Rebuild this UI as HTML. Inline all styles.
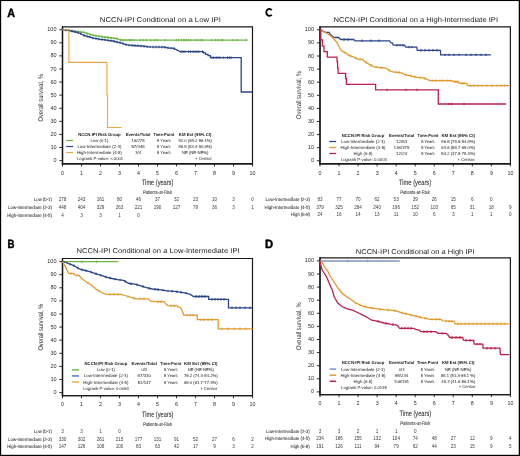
<!DOCTYPE html>
<html><head><meta charset="utf-8"><title>NCCN-IPI Conditional survival</title>
<style>
html,body{margin:0;padding:0;background:#fff;}
body{width:520px;height:456px;overflow:hidden;}
svg{display:block;font-family:"Liberation Sans", sans-serif;text-rendering:geometricPrecision;will-change:transform;}
.n{text-rendering:optimizeLegibility;}
</style></head>
<body>
<svg width="520" height="456" viewBox="0 0 520 456">
<rect x="0" y="0" width="520" height="456" fill="#fff"/>
<text x="7.20" y="16.56" font-size="11.9" text-anchor="start" font-weight="bold" fill="#000" stroke="#000" stroke-width="0.45" textLength="7.80" lengthAdjust="spacingAndGlyphs">A</text>
<text x="99.80" y="21.61" font-size="7.0" text-anchor="start" fill="#1e1e1e" textLength="121.00" lengthAdjust="spacingAndGlyphs">NCCN-IPI Conditional on a Low IPI</text>
<path d="M62.50,163.80 V26.90 H252.50 V163.80 Z" fill="none" stroke="#1a1a1a" stroke-width="1.2"/>
<line x1="62.50" y1="26.40" x2="62.50" y2="164.50" stroke="#1a1a1a" stroke-width="1.4"/>
<line x1="61.80" y1="163.80" x2="252.50" y2="163.80" stroke="#1a1a1a" stroke-width="1.4"/>
<line x1="59.30" y1="160.60" x2="62.50" y2="160.60" stroke="#1a1a1a" stroke-width="0.9"/>
<text x="56.50" y="162.17" font-size="5.5" text-anchor="end" fill="#2a2a2a" class="n">0</text>
<line x1="59.30" y1="147.51" x2="62.50" y2="147.51" stroke="#1a1a1a" stroke-width="0.9"/>
<text x="56.50" y="149.08" font-size="5.5" text-anchor="end" fill="#2a2a2a" class="n">10</text>
<line x1="59.30" y1="134.42" x2="62.50" y2="134.42" stroke="#1a1a1a" stroke-width="0.9"/>
<text x="56.50" y="135.99" font-size="5.5" text-anchor="end" fill="#2a2a2a" class="n">20</text>
<line x1="59.30" y1="121.33" x2="62.50" y2="121.33" stroke="#1a1a1a" stroke-width="0.9"/>
<text x="56.50" y="122.90" font-size="5.5" text-anchor="end" fill="#2a2a2a" class="n">30</text>
<line x1="59.30" y1="108.24" x2="62.50" y2="108.24" stroke="#1a1a1a" stroke-width="0.9"/>
<text x="56.50" y="109.81" font-size="5.5" text-anchor="end" fill="#2a2a2a" class="n">40</text>
<line x1="59.30" y1="95.15" x2="62.50" y2="95.15" stroke="#1a1a1a" stroke-width="0.9"/>
<text x="56.50" y="96.72" font-size="5.5" text-anchor="end" fill="#2a2a2a" class="n">50</text>
<line x1="59.30" y1="82.06" x2="62.50" y2="82.06" stroke="#1a1a1a" stroke-width="0.9"/>
<text x="56.50" y="83.63" font-size="5.5" text-anchor="end" fill="#2a2a2a" class="n">60</text>
<line x1="59.30" y1="68.97" x2="62.50" y2="68.97" stroke="#1a1a1a" stroke-width="0.9"/>
<text x="56.50" y="70.54" font-size="5.5" text-anchor="end" fill="#2a2a2a" class="n">70</text>
<line x1="59.30" y1="55.88" x2="62.50" y2="55.88" stroke="#1a1a1a" stroke-width="0.9"/>
<text x="56.50" y="57.45" font-size="5.5" text-anchor="end" fill="#2a2a2a" class="n">80</text>
<line x1="59.30" y1="42.79" x2="62.50" y2="42.79" stroke="#1a1a1a" stroke-width="0.9"/>
<text x="56.50" y="44.36" font-size="5.5" text-anchor="end" fill="#2a2a2a" class="n">90</text>
<line x1="59.30" y1="29.70" x2="62.50" y2="29.70" stroke="#1a1a1a" stroke-width="0.9"/>
<text x="56.50" y="31.27" font-size="5.5" text-anchor="end" fill="#2a2a2a" class="n">100</text>
<line x1="62.50" y1="163.80" x2="62.50" y2="166.40" stroke="#1a1a1a" stroke-width="0.9"/>
<text x="62.50" y="174.60" font-size="5.3" text-anchor="middle" fill="#2a2a2a" class="n">0</text>
<line x1="81.50" y1="163.80" x2="81.50" y2="166.40" stroke="#1a1a1a" stroke-width="0.9"/>
<text x="81.50" y="174.60" font-size="5.3" text-anchor="middle" fill="#2a2a2a" class="n">1</text>
<line x1="100.50" y1="163.80" x2="100.50" y2="166.40" stroke="#1a1a1a" stroke-width="0.9"/>
<text x="100.50" y="174.60" font-size="5.3" text-anchor="middle" fill="#2a2a2a" class="n">2</text>
<line x1="119.50" y1="163.80" x2="119.50" y2="166.40" stroke="#1a1a1a" stroke-width="0.9"/>
<text x="119.50" y="174.60" font-size="5.3" text-anchor="middle" fill="#2a2a2a" class="n">3</text>
<line x1="138.50" y1="163.80" x2="138.50" y2="166.40" stroke="#1a1a1a" stroke-width="0.9"/>
<text x="138.50" y="174.60" font-size="5.3" text-anchor="middle" fill="#2a2a2a" class="n">4</text>
<line x1="157.50" y1="163.80" x2="157.50" y2="166.40" stroke="#1a1a1a" stroke-width="0.9"/>
<text x="157.50" y="174.60" font-size="5.3" text-anchor="middle" fill="#2a2a2a" class="n">5</text>
<line x1="176.50" y1="163.80" x2="176.50" y2="166.40" stroke="#1a1a1a" stroke-width="0.9"/>
<text x="176.50" y="174.60" font-size="5.3" text-anchor="middle" fill="#2a2a2a" class="n">6</text>
<line x1="195.50" y1="163.80" x2="195.50" y2="166.40" stroke="#1a1a1a" stroke-width="0.9"/>
<text x="195.50" y="174.60" font-size="5.3" text-anchor="middle" fill="#2a2a2a" class="n">7</text>
<line x1="214.50" y1="163.80" x2="214.50" y2="166.40" stroke="#1a1a1a" stroke-width="0.9"/>
<text x="214.50" y="174.60" font-size="5.3" text-anchor="middle" fill="#2a2a2a" class="n">8</text>
<line x1="233.50" y1="163.80" x2="233.50" y2="166.40" stroke="#1a1a1a" stroke-width="0.9"/>
<text x="233.50" y="174.60" font-size="5.3" text-anchor="middle" fill="#2a2a2a" class="n">9</text>
<line x1="252.50" y1="163.80" x2="252.50" y2="166.40" stroke="#1a1a1a" stroke-width="0.9"/>
<text x="252.50" y="174.60" font-size="5.3" text-anchor="middle" fill="#2a2a2a" class="n">10</text>
<text x="0" y="0" font-size="6.9" text-anchor="middle" fill="#2e2e2e" textLength="47.70" lengthAdjust="spacingAndGlyphs" transform="translate(42.50,97.75) rotate(-90)">Overall survival, %</text>
<text x="141.90" y="185.00" font-size="7.8" fill="#2a2a2a" stroke="#2a2a2a" stroke-width="0.07" textLength="31.40" lengthAdjust="spacingAndGlyphs">Time (years)</text>
<text x="142.90" y="193.79" font-size="5.0" text-anchor="start" fill="#333" stroke="#333" stroke-width="0.05" textLength="29.10" lengthAdjust="spacingAndGlyphs">Patients-at-Risk</text>
<path d="M62.50,29.70 L68.90,30.40 L73.50,31.20 L77.00,31.50 L80.50,31.80 L83.90,32.30 L86.20,33.20 L89.70,34.30 L93.10,35.20 L96.60,35.80 L100.10,36.40 L103.50,37.00 L108.10,37.50 L112.70,38.10 L117.40,38.70 L119.50,39.60 L120.80,40.10 L247.50,40.10" fill="none" stroke="#6cb743" stroke-width="1.3" stroke-linejoin="miter"/>
<line x1="66.00" y1="28.88" x2="66.00" y2="31.28" stroke="#6cb743" stroke-width="1.1"/>
<line x1="69.00" y1="29.22" x2="69.00" y2="31.62" stroke="#6cb743" stroke-width="1.1"/>
<line x1="72.00" y1="29.74" x2="72.00" y2="32.14" stroke="#6cb743" stroke-width="1.1"/>
<line x1="75.00" y1="30.13" x2="75.00" y2="32.53" stroke="#6cb743" stroke-width="1.1"/>
<line x1="78.00" y1="30.39" x2="78.00" y2="32.79" stroke="#6cb743" stroke-width="1.1"/>
<line x1="81.00" y1="30.67" x2="81.00" y2="33.07" stroke="#6cb743" stroke-width="1.1"/>
<line x1="84.00" y1="31.14" x2="84.00" y2="33.54" stroke="#6cb743" stroke-width="1.1"/>
<line x1="87.00" y1="32.25" x2="87.00" y2="34.65" stroke="#6cb743" stroke-width="1.1"/>
<line x1="90.00" y1="33.18" x2="90.00" y2="35.58" stroke="#6cb743" stroke-width="1.1"/>
<line x1="93.00" y1="33.97" x2="93.00" y2="36.37" stroke="#6cb743" stroke-width="1.1"/>
<line x1="96.00" y1="34.50" x2="96.00" y2="36.90" stroke="#6cb743" stroke-width="1.1"/>
<line x1="99.00" y1="35.01" x2="99.00" y2="37.41" stroke="#6cb743" stroke-width="1.1"/>
<line x1="102.00" y1="35.54" x2="102.00" y2="37.94" stroke="#6cb743" stroke-width="1.1"/>
<line x1="105.00" y1="35.96" x2="105.00" y2="38.36" stroke="#6cb743" stroke-width="1.1"/>
<line x1="108.00" y1="36.29" x2="108.00" y2="38.69" stroke="#6cb743" stroke-width="1.1"/>
<line x1="111.00" y1="36.68" x2="111.00" y2="39.08" stroke="#6cb743" stroke-width="1.1"/>
<line x1="114.00" y1="37.07" x2="114.00" y2="39.47" stroke="#6cb743" stroke-width="1.1"/>
<line x1="117.00" y1="37.45" x2="117.00" y2="39.85" stroke="#6cb743" stroke-width="1.1"/>
<line x1="120.60" y1="38.82" x2="120.60" y2="41.22" stroke="#6cb743" stroke-width="1.1"/>
<line x1="122.30" y1="38.90" x2="122.30" y2="41.30" stroke="#6cb743" stroke-width="1.1"/>
<line x1="124.00" y1="38.90" x2="124.00" y2="41.30" stroke="#6cb743" stroke-width="1.1"/>
<line x1="125.80" y1="38.90" x2="125.80" y2="41.30" stroke="#6cb743" stroke-width="1.1"/>
<line x1="128.10" y1="38.90" x2="128.10" y2="41.30" stroke="#6cb743" stroke-width="1.1"/>
<line x1="129.80" y1="38.90" x2="129.80" y2="41.30" stroke="#6cb743" stroke-width="1.1"/>
<line x1="131.50" y1="38.90" x2="131.50" y2="41.30" stroke="#6cb743" stroke-width="1.1"/>
<line x1="133.80" y1="38.90" x2="133.80" y2="41.30" stroke="#6cb743" stroke-width="1.1"/>
<line x1="140.20" y1="38.90" x2="140.20" y2="41.30" stroke="#6cb743" stroke-width="1.1"/>
<line x1="143.10" y1="38.90" x2="143.10" y2="41.30" stroke="#6cb743" stroke-width="1.1"/>
<line x1="146.50" y1="38.90" x2="146.50" y2="41.30" stroke="#6cb743" stroke-width="1.1"/>
<line x1="150.60" y1="38.90" x2="150.60" y2="41.30" stroke="#6cb743" stroke-width="1.1"/>
<line x1="154.60" y1="38.90" x2="154.60" y2="41.30" stroke="#6cb743" stroke-width="1.1"/>
<line x1="156.90" y1="38.90" x2="156.90" y2="41.30" stroke="#6cb743" stroke-width="1.1"/>
<line x1="165.00" y1="38.90" x2="165.00" y2="41.30" stroke="#6cb743" stroke-width="1.1"/>
<line x1="176.40" y1="38.90" x2="176.40" y2="41.30" stroke="#6cb743" stroke-width="1.1"/>
<line x1="178.60" y1="38.90" x2="178.60" y2="41.30" stroke="#6cb743" stroke-width="1.1"/>
<line x1="181.50" y1="38.90" x2="181.50" y2="41.30" stroke="#6cb743" stroke-width="1.1"/>
<line x1="183.70" y1="38.90" x2="183.70" y2="41.30" stroke="#6cb743" stroke-width="1.1"/>
<line x1="185.10" y1="38.90" x2="185.10" y2="41.30" stroke="#6cb743" stroke-width="1.1"/>
<line x1="186.50" y1="38.90" x2="186.50" y2="41.30" stroke="#6cb743" stroke-width="1.1"/>
<line x1="188.70" y1="38.90" x2="188.70" y2="41.30" stroke="#6cb743" stroke-width="1.1"/>
<line x1="190.90" y1="38.90" x2="190.90" y2="41.30" stroke="#6cb743" stroke-width="1.1"/>
<line x1="195.20" y1="38.90" x2="195.20" y2="41.30" stroke="#6cb743" stroke-width="1.1"/>
<line x1="198.10" y1="38.90" x2="198.10" y2="41.30" stroke="#6cb743" stroke-width="1.1"/>
<line x1="201.00" y1="38.90" x2="201.00" y2="41.30" stroke="#6cb743" stroke-width="1.1"/>
<line x1="202.40" y1="38.90" x2="202.40" y2="41.30" stroke="#6cb743" stroke-width="1.1"/>
<line x1="211.80" y1="38.90" x2="211.80" y2="41.30" stroke="#6cb743" stroke-width="1.1"/>
<line x1="215.40" y1="38.90" x2="215.40" y2="41.30" stroke="#6cb743" stroke-width="1.1"/>
<line x1="218.30" y1="38.90" x2="218.30" y2="41.30" stroke="#6cb743" stroke-width="1.1"/>
<line x1="221.20" y1="38.90" x2="221.20" y2="41.30" stroke="#6cb743" stroke-width="1.1"/>
<line x1="222.60" y1="38.90" x2="222.60" y2="41.30" stroke="#6cb743" stroke-width="1.1"/>
<line x1="232.70" y1="38.90" x2="232.70" y2="41.30" stroke="#6cb743" stroke-width="1.1"/>
<line x1="237.00" y1="38.90" x2="237.00" y2="41.30" stroke="#6cb743" stroke-width="1.1"/>
<line x1="246.40" y1="38.90" x2="246.40" y2="41.30" stroke="#6cb743" stroke-width="1.1"/>
<path d="M62.50,29.70 L68.90,30.40 L73.50,31.50 L77.00,32.30 L80.50,33.50 L83.30,35.20 L86.20,36.20 L89.70,37.00 L93.10,38.10 L96.60,38.70 L100.10,39.30 L103.50,39.60 L108.10,40.40 L112.70,41.00 L117.40,42.10 L121.80,43.20 L125.70,44.60 L129.50,45.20 L133.40,45.50 L143.00,46.10 L148.80,46.90 L164.20,47.10 L168.00,47.80 L173.80,48.40 L177.60,50.30 L180.00,51.60 L203.30,51.60 L203.30,52.90 L205.50,52.90 L205.50,54.30 L208.00,54.30 L208.00,55.60 L210.40,55.60 L210.40,57.60 L241.20,57.60 L241.20,92.00 L252.50,92.00" fill="none" stroke="#2a4688" stroke-width="1.3" stroke-linejoin="miter"/>
<line x1="66.00" y1="28.88" x2="66.00" y2="31.28" stroke="#2a4688" stroke-width="1.1"/>
<line x1="69.00" y1="29.22" x2="69.00" y2="31.62" stroke="#2a4688" stroke-width="1.1"/>
<line x1="72.00" y1="29.94" x2="72.00" y2="32.34" stroke="#2a4688" stroke-width="1.1"/>
<line x1="75.00" y1="30.64" x2="75.00" y2="33.04" stroke="#2a4688" stroke-width="1.1"/>
<line x1="78.00" y1="31.44" x2="78.00" y2="33.84" stroke="#2a4688" stroke-width="1.1"/>
<line x1="81.00" y1="32.60" x2="81.00" y2="35.00" stroke="#2a4688" stroke-width="1.1"/>
<line x1="84.00" y1="34.24" x2="84.00" y2="36.64" stroke="#2a4688" stroke-width="1.1"/>
<line x1="87.00" y1="35.18" x2="87.00" y2="37.58" stroke="#2a4688" stroke-width="1.1"/>
<line x1="90.00" y1="35.90" x2="90.00" y2="38.30" stroke="#2a4688" stroke-width="1.1"/>
<line x1="93.00" y1="36.87" x2="93.00" y2="39.27" stroke="#2a4688" stroke-width="1.1"/>
<line x1="96.00" y1="37.40" x2="96.00" y2="39.80" stroke="#2a4688" stroke-width="1.1"/>
<line x1="99.00" y1="37.91" x2="99.00" y2="40.31" stroke="#2a4688" stroke-width="1.1"/>
<line x1="102.00" y1="38.27" x2="102.00" y2="40.67" stroke="#2a4688" stroke-width="1.1"/>
<line x1="105.00" y1="38.66" x2="105.00" y2="41.06" stroke="#2a4688" stroke-width="1.1"/>
<line x1="108.00" y1="39.18" x2="108.00" y2="41.58" stroke="#2a4688" stroke-width="1.1"/>
<line x1="111.00" y1="39.58" x2="111.00" y2="41.98" stroke="#2a4688" stroke-width="1.1"/>
<line x1="114.00" y1="40.10" x2="114.00" y2="42.50" stroke="#2a4688" stroke-width="1.1"/>
<line x1="117.00" y1="40.81" x2="117.00" y2="43.21" stroke="#2a4688" stroke-width="1.1"/>
<line x1="120.00" y1="41.55" x2="120.00" y2="43.95" stroke="#2a4688" stroke-width="1.1"/>
<line x1="123.00" y1="42.43" x2="123.00" y2="44.83" stroke="#2a4688" stroke-width="1.1"/>
<line x1="126.00" y1="43.45" x2="126.00" y2="45.85" stroke="#2a4688" stroke-width="1.1"/>
<line x1="129.00" y1="43.92" x2="129.00" y2="46.32" stroke="#2a4688" stroke-width="1.1"/>
<line x1="132.00" y1="44.19" x2="132.00" y2="46.59" stroke="#2a4688" stroke-width="1.1"/>
<line x1="135.00" y1="44.40" x2="135.00" y2="46.80" stroke="#2a4688" stroke-width="1.1"/>
<line x1="138.00" y1="44.59" x2="138.00" y2="46.99" stroke="#2a4688" stroke-width="1.1"/>
<line x1="141.00" y1="44.77" x2="141.00" y2="47.18" stroke="#2a4688" stroke-width="1.1"/>
<line x1="144.00" y1="45.04" x2="144.00" y2="47.44" stroke="#2a4688" stroke-width="1.1"/>
<line x1="147.00" y1="45.45" x2="147.00" y2="47.85" stroke="#2a4688" stroke-width="1.1"/>
<line x1="150.00" y1="45.72" x2="150.00" y2="48.12" stroke="#2a4688" stroke-width="1.1"/>
<line x1="153.00" y1="45.75" x2="153.00" y2="48.15" stroke="#2a4688" stroke-width="1.1"/>
<line x1="156.00" y1="45.79" x2="156.00" y2="48.19" stroke="#2a4688" stroke-width="1.1"/>
<line x1="159.00" y1="45.83" x2="159.00" y2="48.23" stroke="#2a4688" stroke-width="1.1"/>
<line x1="162.00" y1="45.87" x2="162.00" y2="48.27" stroke="#2a4688" stroke-width="1.1"/>
<line x1="165.00" y1="46.05" x2="165.00" y2="48.45" stroke="#2a4688" stroke-width="1.1"/>
<line x1="168.00" y1="46.60" x2="168.00" y2="49.00" stroke="#2a4688" stroke-width="1.1"/>
<line x1="171.00" y1="46.91" x2="171.00" y2="49.31" stroke="#2a4688" stroke-width="1.1"/>
<line x1="174.00" y1="47.30" x2="174.00" y2="49.70" stroke="#2a4688" stroke-width="1.1"/>
<line x1="181.20" y1="50.40" x2="181.20" y2="52.80" stroke="#2a4688" stroke-width="1.1"/>
<line x1="183.10" y1="50.40" x2="183.10" y2="52.80" stroke="#2a4688" stroke-width="1.1"/>
<line x1="185.00" y1="50.40" x2="185.00" y2="52.80" stroke="#2a4688" stroke-width="1.1"/>
<line x1="188.70" y1="50.40" x2="188.70" y2="52.80" stroke="#2a4688" stroke-width="1.1"/>
<line x1="190.60" y1="50.40" x2="190.60" y2="52.80" stroke="#2a4688" stroke-width="1.1"/>
<line x1="193.10" y1="50.40" x2="193.10" y2="52.80" stroke="#2a4688" stroke-width="1.1"/>
<line x1="195.00" y1="50.40" x2="195.00" y2="52.80" stroke="#2a4688" stroke-width="1.1"/>
<line x1="196.90" y1="50.40" x2="196.90" y2="52.80" stroke="#2a4688" stroke-width="1.1"/>
<line x1="198.70" y1="50.40" x2="198.70" y2="52.80" stroke="#2a4688" stroke-width="1.1"/>
<line x1="202.50" y1="50.40" x2="202.50" y2="52.80" stroke="#2a4688" stroke-width="1.1"/>
<line x1="211.90" y1="56.40" x2="211.90" y2="58.80" stroke="#2a4688" stroke-width="1.1"/>
<line x1="213.70" y1="56.40" x2="213.70" y2="58.80" stroke="#2a4688" stroke-width="1.1"/>
<line x1="216.20" y1="56.40" x2="216.20" y2="58.80" stroke="#2a4688" stroke-width="1.1"/>
<line x1="218.10" y1="56.40" x2="218.10" y2="58.80" stroke="#2a4688" stroke-width="1.1"/>
<line x1="220.00" y1="56.40" x2="220.00" y2="58.80" stroke="#2a4688" stroke-width="1.1"/>
<line x1="223.70" y1="56.40" x2="223.70" y2="58.80" stroke="#2a4688" stroke-width="1.1"/>
<line x1="227.50" y1="56.40" x2="227.50" y2="58.80" stroke="#2a4688" stroke-width="1.1"/>
<line x1="229.40" y1="56.40" x2="229.40" y2="58.80" stroke="#2a4688" stroke-width="1.1"/>
<line x1="231.20" y1="56.40" x2="231.20" y2="58.80" stroke="#2a4688" stroke-width="1.1"/>
<path d="M62.50,29.70 L68.90,29.70 L68.90,62.40 L106.90,62.40 L106.90,95.00 L107.50,95.00 L107.50,127.50 L121.60,127.50" fill="none" stroke="#eaa848" stroke-width="1.15" stroke-linejoin="miter"/>
<text x="99.40" y="135.84" font-size="4.3" text-anchor="middle" font-weight="bold" fill="#1a1a1a" textLength="42.50" lengthAdjust="spacingAndGlyphs">NCCN-IPI Risk Group</text>
<text x="138.10" y="135.84" font-size="4.3" text-anchor="middle" font-weight="bold" fill="#1a1a1a" textLength="24.80" lengthAdjust="spacingAndGlyphs">Events/Total</text>
<text x="163.80" y="135.84" font-size="4.3" text-anchor="middle" font-weight="bold" fill="#1a1a1a" textLength="21.00" lengthAdjust="spacingAndGlyphs">Time-Point</text>
<text x="195.20" y="135.84" font-size="4.3" text-anchor="middle" font-weight="bold" fill="#1a1a1a" textLength="32.70" lengthAdjust="spacingAndGlyphs">KM Est (95% CI)</text>
<line x1="66.20" y1="140.50" x2="73.10" y2="140.50" stroke="#6cb743" stroke-width="1.2"/>
<text x="99.40" y="142.04" font-size="4.3" text-anchor="middle" fill="#383838" stroke="#383838" stroke-width="0.04" textLength="17.80" lengthAdjust="spacingAndGlyphs">Low (0-1)</text>
<text x="138.10" y="142.04" font-size="4.3" text-anchor="middle" fill="#383838" stroke="#383838" stroke-width="0.04" textLength="13.00" lengthAdjust="spacingAndGlyphs">16/278</text>
<text x="163.80" y="142.04" font-size="4.3" text-anchor="middle" fill="#383838" stroke="#383838" stroke-width="0.04" textLength="13.50" lengthAdjust="spacingAndGlyphs">5 Years</text>
<text x="195.20" y="142.04" font-size="4.3" text-anchor="middle" fill="#383838" stroke="#383838" stroke-width="0.04" textLength="33.30" lengthAdjust="spacingAndGlyphs">92.0 (88.2-96.1%)</text>
<line x1="66.20" y1="146.50" x2="73.10" y2="146.50" stroke="#2a4688" stroke-width="1.2"/>
<text x="99.40" y="148.04" font-size="4.3" text-anchor="middle" fill="#383838" stroke="#383838" stroke-width="0.04" textLength="44.00" lengthAdjust="spacingAndGlyphs">Low-Intermediate (2-3)</text>
<text x="138.10" y="148.04" font-size="4.3" text-anchor="middle" fill="#383838" stroke="#383838" stroke-width="0.04" textLength="13.30" lengthAdjust="spacingAndGlyphs">57/448</text>
<text x="163.80" y="148.04" font-size="4.3" text-anchor="middle" fill="#383838" stroke="#383838" stroke-width="0.04" textLength="13.50" lengthAdjust="spacingAndGlyphs">5 Years</text>
<text x="195.20" y="148.04" font-size="4.3" text-anchor="middle" fill="#383838" stroke="#383838" stroke-width="0.04" textLength="33.30" lengthAdjust="spacingAndGlyphs">86.9 (83.4-90.6%)</text>
<line x1="66.20" y1="152.50" x2="73.10" y2="152.50" stroke="#eaa848" stroke-width="1.2"/>
<text x="99.40" y="154.04" font-size="4.3" text-anchor="middle" fill="#383838" stroke="#383838" stroke-width="0.04" textLength="45.00" lengthAdjust="spacingAndGlyphs">High-Intermediate (4-5)</text>
<text x="138.10" y="154.04" font-size="4.3" text-anchor="middle" fill="#383838" stroke="#383838" stroke-width="0.04" textLength="5.70" lengthAdjust="spacingAndGlyphs">3/4</text>
<text x="163.80" y="154.04" font-size="4.3" text-anchor="middle" fill="#383838" stroke="#383838" stroke-width="0.04" textLength="13.50" lengthAdjust="spacingAndGlyphs">5 Years</text>
<text x="195.20" y="154.04" font-size="4.3" text-anchor="middle" fill="#383838" stroke="#383838" stroke-width="0.04" textLength="26.20" lengthAdjust="spacingAndGlyphs">NE (NE-NE%)</text>
<text x="77.00" y="160.04" font-size="4.3" text-anchor="start" fill="#383838" stroke="#383838" stroke-width="0.04" textLength="46.20" lengthAdjust="spacingAndGlyphs">Logrank P-value: &lt;.0001</text>
<text x="211.90" y="160.14" font-size="4.3" text-anchor="end" fill="#383838" stroke="#383838" stroke-width="0.04" textLength="16.80" lengthAdjust="spacingAndGlyphs">+ Censor</text>
<text x="34.00" y="201.18" font-size="4.7" text-anchor="start" fill="#2e2e2e" stroke="#2e2e2e" stroke-width="0.06" textLength="17.90" lengthAdjust="spacingAndGlyphs">Low (0-1)</text>
<text x="62.50" y="201.15" font-size="4.6" text-anchor="middle" fill="#3c3c3c" class="n">278</text>
<text x="81.50" y="201.15" font-size="4.6" text-anchor="middle" fill="#3c3c3c" class="n">243</text>
<text x="100.50" y="201.15" font-size="4.6" text-anchor="middle" fill="#3c3c3c" class="n">161</text>
<text x="119.50" y="201.15" font-size="4.6" text-anchor="middle" fill="#3c3c3c" class="n">80</text>
<text x="138.50" y="201.15" font-size="4.6" text-anchor="middle" fill="#3c3c3c" class="n">46</text>
<text x="157.50" y="201.15" font-size="4.6" text-anchor="middle" fill="#3c3c3c" class="n">37</text>
<text x="176.50" y="201.15" font-size="4.6" text-anchor="middle" fill="#3c3c3c" class="n">32</text>
<text x="195.50" y="201.15" font-size="4.6" text-anchor="middle" fill="#3c3c3c" class="n">23</text>
<text x="214.50" y="201.15" font-size="4.6" text-anchor="middle" fill="#3c3c3c" class="n">10</text>
<text x="233.50" y="201.15" font-size="4.6" text-anchor="middle" fill="#3c3c3c" class="n">3</text>
<text x="252.50" y="201.15" font-size="4.6" text-anchor="middle" fill="#3c3c3c" class="n">0</text>
<text x="8.10" y="209.18" font-size="4.7" text-anchor="start" fill="#2e2e2e" stroke="#2e2e2e" stroke-width="0.06" textLength="43.80" lengthAdjust="spacingAndGlyphs">Low-Intermediate (2-3)</text>
<text x="62.50" y="209.15" font-size="4.6" text-anchor="middle" fill="#3c3c3c" class="n">448</text>
<text x="81.50" y="209.15" font-size="4.6" text-anchor="middle" fill="#3c3c3c" class="n">404</text>
<text x="100.50" y="209.15" font-size="4.6" text-anchor="middle" fill="#3c3c3c" class="n">329</text>
<text x="119.50" y="209.15" font-size="4.6" text-anchor="middle" fill="#3c3c3c" class="n">263</text>
<text x="138.50" y="209.15" font-size="4.6" text-anchor="middle" fill="#3c3c3c" class="n">221</text>
<text x="157.50" y="209.15" font-size="4.6" text-anchor="middle" fill="#3c3c3c" class="n">190</text>
<text x="176.50" y="209.15" font-size="4.6" text-anchor="middle" fill="#3c3c3c" class="n">127</text>
<text x="195.50" y="209.15" font-size="4.6" text-anchor="middle" fill="#3c3c3c" class="n">79</text>
<text x="214.50" y="209.15" font-size="4.6" text-anchor="middle" fill="#3c3c3c" class="n">36</text>
<text x="233.50" y="209.15" font-size="4.6" text-anchor="middle" fill="#3c3c3c" class="n">3</text>
<text x="252.50" y="209.15" font-size="4.6" text-anchor="middle" fill="#3c3c3c" class="n">1</text>
<text x="7.20" y="217.28" font-size="4.7" text-anchor="start" fill="#2e2e2e" stroke="#2e2e2e" stroke-width="0.06" textLength="44.70" lengthAdjust="spacingAndGlyphs">High-Intermediate (4-5)</text>
<text x="62.50" y="217.25" font-size="4.6" text-anchor="middle" fill="#3c3c3c" class="n">4</text>
<text x="81.50" y="217.25" font-size="4.6" text-anchor="middle" fill="#3c3c3c" class="n">3</text>
<text x="100.50" y="217.25" font-size="4.6" text-anchor="middle" fill="#3c3c3c" class="n">3</text>
<text x="119.50" y="217.25" font-size="4.6" text-anchor="middle" fill="#3c3c3c" class="n">1</text>
<text x="138.50" y="217.25" font-size="4.6" text-anchor="middle" fill="#3c3c3c" class="n">0</text>
<text x="7.50" y="247.96" font-size="11.9" text-anchor="start" font-weight="bold" fill="#000" stroke="#000" stroke-width="0.45" textLength="7.00" lengthAdjust="spacingAndGlyphs">B</text>
<text x="76.60" y="253.21" font-size="7.0" text-anchor="start" fill="#1e1e1e" textLength="163.00" lengthAdjust="spacingAndGlyphs">NCCN-IPI Conditional on a Low-Intermediate IPI</text>
<path d="M62.50,395.60 V258.50 H252.50 V395.60 Z" fill="none" stroke="#1a1a1a" stroke-width="1.2"/>
<line x1="62.50" y1="258.00" x2="62.50" y2="396.30" stroke="#1a1a1a" stroke-width="1.4"/>
<line x1="61.80" y1="395.60" x2="252.50" y2="395.60" stroke="#1a1a1a" stroke-width="1.4"/>
<line x1="59.30" y1="392.60" x2="62.50" y2="392.60" stroke="#1a1a1a" stroke-width="0.9"/>
<text x="56.50" y="394.17" font-size="5.5" text-anchor="end" fill="#2a2a2a" class="n">0</text>
<line x1="59.30" y1="379.50" x2="62.50" y2="379.50" stroke="#1a1a1a" stroke-width="0.9"/>
<text x="56.50" y="381.07" font-size="5.5" text-anchor="end" fill="#2a2a2a" class="n">10</text>
<line x1="59.30" y1="366.40" x2="62.50" y2="366.40" stroke="#1a1a1a" stroke-width="0.9"/>
<text x="56.50" y="367.97" font-size="5.5" text-anchor="end" fill="#2a2a2a" class="n">20</text>
<line x1="59.30" y1="353.30" x2="62.50" y2="353.30" stroke="#1a1a1a" stroke-width="0.9"/>
<text x="56.50" y="354.87" font-size="5.5" text-anchor="end" fill="#2a2a2a" class="n">30</text>
<line x1="59.30" y1="340.20" x2="62.50" y2="340.20" stroke="#1a1a1a" stroke-width="0.9"/>
<text x="56.50" y="341.77" font-size="5.5" text-anchor="end" fill="#2a2a2a" class="n">40</text>
<line x1="59.30" y1="327.10" x2="62.50" y2="327.10" stroke="#1a1a1a" stroke-width="0.9"/>
<text x="56.50" y="328.67" font-size="5.5" text-anchor="end" fill="#2a2a2a" class="n">50</text>
<line x1="59.30" y1="314.00" x2="62.50" y2="314.00" stroke="#1a1a1a" stroke-width="0.9"/>
<text x="56.50" y="315.57" font-size="5.5" text-anchor="end" fill="#2a2a2a" class="n">60</text>
<line x1="59.30" y1="300.90" x2="62.50" y2="300.90" stroke="#1a1a1a" stroke-width="0.9"/>
<text x="56.50" y="302.47" font-size="5.5" text-anchor="end" fill="#2a2a2a" class="n">70</text>
<line x1="59.30" y1="287.80" x2="62.50" y2="287.80" stroke="#1a1a1a" stroke-width="0.9"/>
<text x="56.50" y="289.37" font-size="5.5" text-anchor="end" fill="#2a2a2a" class="n">80</text>
<line x1="59.30" y1="274.70" x2="62.50" y2="274.70" stroke="#1a1a1a" stroke-width="0.9"/>
<text x="56.50" y="276.27" font-size="5.5" text-anchor="end" fill="#2a2a2a" class="n">90</text>
<line x1="59.30" y1="261.60" x2="62.50" y2="261.60" stroke="#1a1a1a" stroke-width="0.9"/>
<text x="56.50" y="263.17" font-size="5.5" text-anchor="end" fill="#2a2a2a" class="n">100</text>
<line x1="62.50" y1="395.60" x2="62.50" y2="398.20" stroke="#1a1a1a" stroke-width="0.9"/>
<text x="62.50" y="406.40" font-size="5.3" text-anchor="middle" fill="#2a2a2a" class="n">0</text>
<line x1="81.50" y1="395.60" x2="81.50" y2="398.20" stroke="#1a1a1a" stroke-width="0.9"/>
<text x="81.50" y="406.40" font-size="5.3" text-anchor="middle" fill="#2a2a2a" class="n">1</text>
<line x1="100.50" y1="395.60" x2="100.50" y2="398.20" stroke="#1a1a1a" stroke-width="0.9"/>
<text x="100.50" y="406.40" font-size="5.3" text-anchor="middle" fill="#2a2a2a" class="n">2</text>
<line x1="119.50" y1="395.60" x2="119.50" y2="398.20" stroke="#1a1a1a" stroke-width="0.9"/>
<text x="119.50" y="406.40" font-size="5.3" text-anchor="middle" fill="#2a2a2a" class="n">3</text>
<line x1="138.50" y1="395.60" x2="138.50" y2="398.20" stroke="#1a1a1a" stroke-width="0.9"/>
<text x="138.50" y="406.40" font-size="5.3" text-anchor="middle" fill="#2a2a2a" class="n">4</text>
<line x1="157.50" y1="395.60" x2="157.50" y2="398.20" stroke="#1a1a1a" stroke-width="0.9"/>
<text x="157.50" y="406.40" font-size="5.3" text-anchor="middle" fill="#2a2a2a" class="n">5</text>
<line x1="176.50" y1="395.60" x2="176.50" y2="398.20" stroke="#1a1a1a" stroke-width="0.9"/>
<text x="176.50" y="406.40" font-size="5.3" text-anchor="middle" fill="#2a2a2a" class="n">6</text>
<line x1="195.50" y1="395.60" x2="195.50" y2="398.20" stroke="#1a1a1a" stroke-width="0.9"/>
<text x="195.50" y="406.40" font-size="5.3" text-anchor="middle" fill="#2a2a2a" class="n">7</text>
<line x1="214.50" y1="395.60" x2="214.50" y2="398.20" stroke="#1a1a1a" stroke-width="0.9"/>
<text x="214.50" y="406.40" font-size="5.3" text-anchor="middle" fill="#2a2a2a" class="n">8</text>
<line x1="233.50" y1="395.60" x2="233.50" y2="398.20" stroke="#1a1a1a" stroke-width="0.9"/>
<text x="233.50" y="406.40" font-size="5.3" text-anchor="middle" fill="#2a2a2a" class="n">9</text>
<line x1="252.50" y1="395.60" x2="252.50" y2="398.20" stroke="#1a1a1a" stroke-width="0.9"/>
<text x="252.50" y="406.40" font-size="5.3" text-anchor="middle" fill="#2a2a2a" class="n">10</text>
<text x="0" y="0" font-size="6.9" text-anchor="middle" fill="#2e2e2e" textLength="47.00" lengthAdjust="spacingAndGlyphs" transform="translate(42.50,327.10) rotate(-90)">Overall survival, %</text>
<text x="142.00" y="416.90" font-size="7.8" fill="#2a2a2a" stroke="#2a2a2a" stroke-width="0.07" textLength="31.40" lengthAdjust="spacingAndGlyphs">Time (years)</text>
<text x="143.00" y="425.79" font-size="5.0" text-anchor="start" fill="#333" stroke="#333" stroke-width="0.05" textLength="29.00" lengthAdjust="spacingAndGlyphs">Patients-at-Risk</text>
<path d="M62.50,261.70 L118.30,261.70" fill="none" stroke="#6cb743" stroke-width="1.3" stroke-linejoin="miter"/>
<line x1="82.00" y1="260.50" x2="82.00" y2="262.90" stroke="#6cb743" stroke-width="1.1"/>
<line x1="96.50" y1="260.50" x2="96.50" y2="262.90" stroke="#6cb743" stroke-width="1.1"/>
<path d="M62.50,261.60 L65.80,262.30 L68.70,263.70 L71.50,264.60 L75.40,266.50 L79.20,268.80 L83.10,270.00 L88.80,271.30 L94.60,273.30 L100.40,275.20 L106.20,277.10 L111.90,278.50 L117.70,279.60 L123.50,280.40 L129.20,283.50 L135.00,284.20 L140.80,285.80 L146.50,287.70 L152.30,289.00 L160.90,289.80 L166.90,290.80 L174.80,291.40 L184.70,292.80 L189.70,294.20 L193.60,296.50 L208.70,296.50 L208.70,299.30 L228.50,299.30 L228.50,307.80 L252.50,307.80" fill="none" stroke="#2a4688" stroke-width="1.3" stroke-linejoin="miter"/>
<line x1="70.00" y1="262.92" x2="70.00" y2="265.32" stroke="#2a4688" stroke-width="1.1"/>
<line x1="74.00" y1="264.62" x2="74.00" y2="267.02" stroke="#2a4688" stroke-width="1.1"/>
<line x1="78.00" y1="266.87" x2="78.00" y2="269.27" stroke="#2a4688" stroke-width="1.1"/>
<line x1="82.00" y1="268.46" x2="82.00" y2="270.86" stroke="#2a4688" stroke-width="1.1"/>
<line x1="86.00" y1="269.46" x2="86.00" y2="271.86" stroke="#2a4688" stroke-width="1.1"/>
<line x1="91.00" y1="270.86" x2="91.00" y2="273.26" stroke="#2a4688" stroke-width="1.1"/>
<line x1="96.00" y1="272.56" x2="96.00" y2="274.96" stroke="#2a4688" stroke-width="1.1"/>
<line x1="101.00" y1="274.20" x2="101.00" y2="276.60" stroke="#2a4688" stroke-width="1.1"/>
<line x1="106.00" y1="275.83" x2="106.00" y2="278.23" stroke="#2a4688" stroke-width="1.1"/>
<line x1="110.00" y1="276.83" x2="110.00" y2="279.23" stroke="#2a4688" stroke-width="1.1"/>
<line x1="115.00" y1="277.89" x2="115.00" y2="280.29" stroke="#2a4688" stroke-width="1.1"/>
<line x1="120.00" y1="278.72" x2="120.00" y2="281.12" stroke="#2a4688" stroke-width="1.1"/>
<line x1="125.00" y1="280.02" x2="125.00" y2="282.42" stroke="#2a4688" stroke-width="1.1"/>
<line x1="131.00" y1="282.52" x2="131.00" y2="284.92" stroke="#2a4688" stroke-width="1.1"/>
<line x1="137.00" y1="283.55" x2="137.00" y2="285.95" stroke="#2a4688" stroke-width="1.1"/>
<line x1="143.00" y1="285.33" x2="143.00" y2="287.73" stroke="#2a4688" stroke-width="1.1"/>
<line x1="149.00" y1="287.06" x2="149.00" y2="289.46" stroke="#2a4688" stroke-width="1.1"/>
<line x1="155.00" y1="288.05" x2="155.00" y2="290.45" stroke="#2a4688" stroke-width="1.1"/>
<line x1="158.00" y1="288.33" x2="158.00" y2="290.73" stroke="#2a4688" stroke-width="1.1"/>
<line x1="163.00" y1="288.95" x2="163.00" y2="291.35" stroke="#2a4688" stroke-width="1.1"/>
<line x1="168.00" y1="289.68" x2="168.00" y2="292.08" stroke="#2a4688" stroke-width="1.1"/>
<line x1="172.00" y1="289.99" x2="172.00" y2="292.39" stroke="#2a4688" stroke-width="1.1"/>
<line x1="177.00" y1="290.51" x2="177.00" y2="292.91" stroke="#2a4688" stroke-width="1.1"/>
<line x1="181.00" y1="291.08" x2="181.00" y2="293.48" stroke="#2a4688" stroke-width="1.1"/>
<line x1="186.00" y1="291.96" x2="186.00" y2="294.36" stroke="#2a4688" stroke-width="1.1"/>
<line x1="196.00" y1="295.30" x2="196.00" y2="297.70" stroke="#2a4688" stroke-width="1.1"/>
<line x1="199.00" y1="295.30" x2="199.00" y2="297.70" stroke="#2a4688" stroke-width="1.1"/>
<line x1="202.00" y1="295.30" x2="202.00" y2="297.70" stroke="#2a4688" stroke-width="1.1"/>
<line x1="205.00" y1="295.30" x2="205.00" y2="297.70" stroke="#2a4688" stroke-width="1.1"/>
<line x1="212.00" y1="298.10" x2="212.00" y2="300.50" stroke="#2a4688" stroke-width="1.1"/>
<line x1="215.00" y1="298.10" x2="215.00" y2="300.50" stroke="#2a4688" stroke-width="1.1"/>
<line x1="218.00" y1="298.10" x2="218.00" y2="300.50" stroke="#2a4688" stroke-width="1.1"/>
<line x1="221.00" y1="298.10" x2="221.00" y2="300.50" stroke="#2a4688" stroke-width="1.1"/>
<line x1="224.00" y1="298.10" x2="224.00" y2="300.50" stroke="#2a4688" stroke-width="1.1"/>
<line x1="232.00" y1="306.60" x2="232.00" y2="309.00" stroke="#2a4688" stroke-width="1.1"/>
<line x1="236.00" y1="306.60" x2="236.00" y2="309.00" stroke="#2a4688" stroke-width="1.1"/>
<line x1="240.00" y1="306.60" x2="240.00" y2="309.00" stroke="#2a4688" stroke-width="1.1"/>
<line x1="245.00" y1="306.60" x2="245.00" y2="309.00" stroke="#2a4688" stroke-width="1.1"/>
<line x1="250.00" y1="306.60" x2="250.00" y2="309.00" stroke="#2a4688" stroke-width="1.1"/>
<path d="M62.50,261.60 L64.80,265.60 L66.70,269.40 L68.70,273.30 L73.50,273.70 L75.40,275.20 L79.20,275.60 L81.20,278.10 L85.00,281.00 L90.80,284.80 L95.60,288.70 L101.30,292.50 L106.20,294.40 L121.50,294.40 L126.30,296.00 L132.10,297.70 L136.00,298.80 L148.50,298.80 L150.40,301.20 L155.00,301.70 L163.90,301.70 L165.90,304.10 L167.90,305.60 L176.80,306.00 L180.70,308.00 L182.70,312.00 L183.70,315.10 L197.20,315.10 L197.20,319.70 L218.20,319.70 L218.20,328.80 L252.50,328.80" fill="none" stroke="#e39a2d" stroke-width="1.3" stroke-linejoin="miter"/>
<line x1="71.00" y1="272.29" x2="71.00" y2="274.69" stroke="#e39a2d" stroke-width="1.1"/>
<line x1="77.00" y1="274.17" x2="77.00" y2="276.57" stroke="#e39a2d" stroke-width="1.1"/>
<line x1="88.00" y1="281.77" x2="88.00" y2="284.17" stroke="#e39a2d" stroke-width="1.1"/>
<line x1="99.00" y1="289.77" x2="99.00" y2="292.17" stroke="#e39a2d" stroke-width="1.1"/>
<line x1="110.00" y1="293.20" x2="110.00" y2="295.60" stroke="#e39a2d" stroke-width="1.1"/>
<line x1="114.00" y1="293.20" x2="114.00" y2="295.60" stroke="#e39a2d" stroke-width="1.1"/>
<line x1="118.00" y1="293.20" x2="118.00" y2="295.60" stroke="#e39a2d" stroke-width="1.1"/>
<line x1="128.00" y1="295.30" x2="128.00" y2="297.70" stroke="#e39a2d" stroke-width="1.1"/>
<line x1="134.00" y1="297.04" x2="134.00" y2="299.44" stroke="#e39a2d" stroke-width="1.1"/>
<line x1="140.00" y1="297.60" x2="140.00" y2="300.00" stroke="#e39a2d" stroke-width="1.1"/>
<line x1="144.00" y1="297.60" x2="144.00" y2="300.00" stroke="#e39a2d" stroke-width="1.1"/>
<line x1="158.00" y1="300.50" x2="158.00" y2="302.90" stroke="#e39a2d" stroke-width="1.1"/>
<line x1="161.00" y1="300.50" x2="161.00" y2="302.90" stroke="#e39a2d" stroke-width="1.1"/>
<line x1="171.00" y1="304.54" x2="171.00" y2="306.94" stroke="#e39a2d" stroke-width="1.1"/>
<line x1="174.00" y1="304.67" x2="174.00" y2="307.07" stroke="#e39a2d" stroke-width="1.1"/>
<line x1="187.00" y1="313.90" x2="187.00" y2="316.30" stroke="#e39a2d" stroke-width="1.1"/>
<line x1="190.00" y1="313.90" x2="190.00" y2="316.30" stroke="#e39a2d" stroke-width="1.1"/>
<line x1="193.00" y1="313.90" x2="193.00" y2="316.30" stroke="#e39a2d" stroke-width="1.1"/>
<line x1="201.00" y1="318.50" x2="201.00" y2="320.90" stroke="#e39a2d" stroke-width="1.1"/>
<line x1="204.00" y1="318.50" x2="204.00" y2="320.90" stroke="#e39a2d" stroke-width="1.1"/>
<line x1="208.00" y1="318.50" x2="208.00" y2="320.90" stroke="#e39a2d" stroke-width="1.1"/>
<line x1="212.00" y1="318.50" x2="212.00" y2="320.90" stroke="#e39a2d" stroke-width="1.1"/>
<line x1="222.00" y1="327.60" x2="222.00" y2="330.00" stroke="#e39a2d" stroke-width="1.1"/>
<line x1="228.00" y1="327.60" x2="228.00" y2="330.00" stroke="#e39a2d" stroke-width="1.1"/>
<line x1="234.00" y1="327.60" x2="234.00" y2="330.00" stroke="#e39a2d" stroke-width="1.1"/>
<line x1="240.00" y1="327.60" x2="240.00" y2="330.00" stroke="#e39a2d" stroke-width="1.1"/>
<line x1="246.00" y1="327.60" x2="246.00" y2="330.00" stroke="#e39a2d" stroke-width="1.1"/>
<text x="105.90" y="365.14" font-size="4.3" text-anchor="middle" font-weight="bold" fill="#1a1a1a" textLength="42.70" lengthAdjust="spacingAndGlyphs">NCCN-IPI Risk Group</text>
<text x="144.25" y="365.14" font-size="4.3" text-anchor="middle" font-weight="bold" fill="#1a1a1a" textLength="25.30" lengthAdjust="spacingAndGlyphs">Events/Total</text>
<text x="170.75" y="365.14" font-size="4.3" text-anchor="middle" font-weight="bold" fill="#1a1a1a" textLength="21.10" lengthAdjust="spacingAndGlyphs">Time-Point</text>
<text x="200.80" y="365.14" font-size="4.3" text-anchor="middle" font-weight="bold" fill="#1a1a1a" textLength="33.40" lengthAdjust="spacingAndGlyphs">KM Est (95% CI)</text>
<line x1="72.00" y1="369.90" x2="79.00" y2="369.90" stroke="#8dc877" stroke-width="1.9"/>
<text x="105.90" y="371.44" font-size="4.3" text-anchor="middle" fill="#383838" stroke="#383838" stroke-width="0.04" textLength="18.20" lengthAdjust="spacingAndGlyphs">Low (0-1)</text>
<text x="144.25" y="371.44" font-size="4.3" text-anchor="middle" fill="#383838" stroke="#383838" stroke-width="0.04" textLength="5.70" lengthAdjust="spacingAndGlyphs">0/3</text>
<text x="170.75" y="371.44" font-size="4.3" text-anchor="middle" fill="#383838" stroke="#383838" stroke-width="0.04" textLength="13.50" lengthAdjust="spacingAndGlyphs">5 Years</text>
<text x="200.80" y="371.44" font-size="4.3" text-anchor="middle" fill="#383838" stroke="#383838" stroke-width="0.04" textLength="26.20" lengthAdjust="spacingAndGlyphs">NE (NE-NE%)</text>
<line x1="72.00" y1="375.90" x2="79.00" y2="375.90" stroke="#7a93c4" stroke-width="1.9"/>
<text x="105.90" y="377.44" font-size="4.3" text-anchor="middle" fill="#383838" stroke="#383838" stroke-width="0.04" textLength="44.20" lengthAdjust="spacingAndGlyphs">Low-Intermediate (2-3)</text>
<text x="144.25" y="377.44" font-size="4.3" text-anchor="middle" fill="#383838" stroke="#383838" stroke-width="0.04" textLength="13.30" lengthAdjust="spacingAndGlyphs">67/330</text>
<text x="170.75" y="377.44" font-size="4.3" text-anchor="middle" fill="#383838" stroke="#383838" stroke-width="0.04" textLength="13.50" lengthAdjust="spacingAndGlyphs">5 Years</text>
<text x="200.80" y="377.44" font-size="4.3" text-anchor="middle" fill="#383838" stroke="#383838" stroke-width="0.04" textLength="33.70" lengthAdjust="spacingAndGlyphs">79.2 (74.4-84.2%)</text>
<line x1="72.00" y1="382.00" x2="79.00" y2="382.00" stroke="#f0be6c" stroke-width="1.9"/>
<text x="105.90" y="383.54" font-size="4.3" text-anchor="middle" fill="#383838" stroke="#383838" stroke-width="0.04" textLength="45.10" lengthAdjust="spacingAndGlyphs">High-Intermediate (4-5)</text>
<text x="144.25" y="383.54" font-size="4.3" text-anchor="middle" fill="#383838" stroke="#383838" stroke-width="0.04" textLength="13.00" lengthAdjust="spacingAndGlyphs">51/147</text>
<text x="170.75" y="383.54" font-size="4.3" text-anchor="middle" fill="#383838" stroke="#383838" stroke-width="0.04" textLength="13.50" lengthAdjust="spacingAndGlyphs">5 Years</text>
<text x="200.80" y="383.54" font-size="4.3" text-anchor="middle" fill="#383838" stroke="#383838" stroke-width="0.04" textLength="33.70" lengthAdjust="spacingAndGlyphs">69.0 (61.7-77.3%)</text>
<text x="83.20" y="389.74" font-size="4.3" text-anchor="start" fill="#383838" stroke="#383838" stroke-width="0.04" textLength="45.70" lengthAdjust="spacingAndGlyphs">Logrank P-value: 0.0064</text>
<text x="217.20" y="389.54" font-size="4.3" text-anchor="end" fill="#383838" stroke="#383838" stroke-width="0.04" textLength="16.90" lengthAdjust="spacingAndGlyphs">+ Censor</text>
<text x="34.00" y="432.98" font-size="4.7" text-anchor="start" fill="#2e2e2e" stroke="#2e2e2e" stroke-width="0.06" textLength="17.90" lengthAdjust="spacingAndGlyphs">Low (0-1)</text>
<text x="62.50" y="432.95" font-size="4.6" text-anchor="middle" fill="#3c3c3c" class="n">3</text>
<text x="81.50" y="432.95" font-size="4.6" text-anchor="middle" fill="#3c3c3c" class="n">3</text>
<text x="100.50" y="432.95" font-size="4.6" text-anchor="middle" fill="#3c3c3c" class="n">1</text>
<text x="119.50" y="432.95" font-size="4.6" text-anchor="middle" fill="#3c3c3c" class="n">0</text>
<text x="8.10" y="440.58" font-size="4.7" text-anchor="start" fill="#2e2e2e" stroke="#2e2e2e" stroke-width="0.06" textLength="43.80" lengthAdjust="spacingAndGlyphs">Low-Intermediate (2-3)</text>
<text x="62.50" y="440.55" font-size="4.6" text-anchor="middle" fill="#3c3c3c" class="n">330</text>
<text x="81.50" y="440.55" font-size="4.6" text-anchor="middle" fill="#3c3c3c" class="n">302</text>
<text x="100.50" y="440.55" font-size="4.6" text-anchor="middle" fill="#3c3c3c" class="n">261</text>
<text x="119.50" y="440.55" font-size="4.6" text-anchor="middle" fill="#3c3c3c" class="n">215</text>
<text x="138.50" y="440.55" font-size="4.6" text-anchor="middle" fill="#3c3c3c" class="n">177</text>
<text x="157.50" y="440.55" font-size="4.6" text-anchor="middle" fill="#3c3c3c" class="n">131</text>
<text x="176.50" y="440.55" font-size="4.6" text-anchor="middle" fill="#3c3c3c" class="n">91</text>
<text x="195.50" y="440.55" font-size="4.6" text-anchor="middle" fill="#3c3c3c" class="n">52</text>
<text x="214.50" y="440.55" font-size="4.6" text-anchor="middle" fill="#3c3c3c" class="n">27</text>
<text x="233.50" y="440.55" font-size="4.6" text-anchor="middle" fill="#3c3c3c" class="n">6</text>
<text x="252.50" y="440.55" font-size="4.6" text-anchor="middle" fill="#3c3c3c" class="n">2</text>
<text x="7.20" y="448.28" font-size="4.7" text-anchor="start" fill="#2e2e2e" stroke="#2e2e2e" stroke-width="0.06" textLength="44.70" lengthAdjust="spacingAndGlyphs">High-Intermediate (4-5)</text>
<text x="62.50" y="448.25" font-size="4.6" text-anchor="middle" fill="#3c3c3c" class="n">147</text>
<text x="81.50" y="448.25" font-size="4.6" text-anchor="middle" fill="#3c3c3c" class="n">126</text>
<text x="100.50" y="448.25" font-size="4.6" text-anchor="middle" fill="#3c3c3c" class="n">108</text>
<text x="119.50" y="448.25" font-size="4.6" text-anchor="middle" fill="#3c3c3c" class="n">100</text>
<text x="138.50" y="448.25" font-size="4.6" text-anchor="middle" fill="#3c3c3c" class="n">83</text>
<text x="157.50" y="448.25" font-size="4.6" text-anchor="middle" fill="#3c3c3c" class="n">63</text>
<text x="176.50" y="448.25" font-size="4.6" text-anchor="middle" fill="#3c3c3c" class="n">42</text>
<text x="195.50" y="448.25" font-size="4.6" text-anchor="middle" fill="#3c3c3c" class="n">17</text>
<text x="214.50" y="448.25" font-size="4.6" text-anchor="middle" fill="#3c3c3c" class="n">9</text>
<text x="233.50" y="448.25" font-size="4.6" text-anchor="middle" fill="#3c3c3c" class="n">3</text>
<text x="252.50" y="448.25" font-size="4.6" text-anchor="middle" fill="#3c3c3c" class="n">2</text>
<path d="M271.75,10.05 A3.15,3.45 0 1 0 271.75,14.75" fill="none" stroke="#000" stroke-width="1.85"/>
<text x="333.60" y="22.11" font-size="7.0" text-anchor="start" fill="#1e1e1e" textLength="164.40" lengthAdjust="spacingAndGlyphs">NCCN-IPI Conditional on a High-Intermediate IPI</text>
<path d="M320.00,163.80 V26.80 H510.40 V163.80 Z" fill="none" stroke="#1a1a1a" stroke-width="1.2"/>
<line x1="320.00" y1="26.30" x2="320.00" y2="164.50" stroke="#1a1a1a" stroke-width="1.4"/>
<line x1="319.30" y1="163.80" x2="510.40" y2="163.80" stroke="#1a1a1a" stroke-width="1.4"/>
<line x1="316.80" y1="160.80" x2="320.00" y2="160.80" stroke="#1a1a1a" stroke-width="0.9"/>
<text x="314.00" y="162.37" font-size="5.5" text-anchor="end" fill="#2a2a2a" class="n">0</text>
<line x1="316.80" y1="147.70" x2="320.00" y2="147.70" stroke="#1a1a1a" stroke-width="0.9"/>
<text x="314.00" y="149.27" font-size="5.5" text-anchor="end" fill="#2a2a2a" class="n">10</text>
<line x1="316.80" y1="134.60" x2="320.00" y2="134.60" stroke="#1a1a1a" stroke-width="0.9"/>
<text x="314.00" y="136.17" font-size="5.5" text-anchor="end" fill="#2a2a2a" class="n">20</text>
<line x1="316.80" y1="121.50" x2="320.00" y2="121.50" stroke="#1a1a1a" stroke-width="0.9"/>
<text x="314.00" y="123.07" font-size="5.5" text-anchor="end" fill="#2a2a2a" class="n">30</text>
<line x1="316.80" y1="108.40" x2="320.00" y2="108.40" stroke="#1a1a1a" stroke-width="0.9"/>
<text x="314.00" y="109.97" font-size="5.5" text-anchor="end" fill="#2a2a2a" class="n">40</text>
<line x1="316.80" y1="95.30" x2="320.00" y2="95.30" stroke="#1a1a1a" stroke-width="0.9"/>
<text x="314.00" y="96.87" font-size="5.5" text-anchor="end" fill="#2a2a2a" class="n">50</text>
<line x1="316.80" y1="82.20" x2="320.00" y2="82.20" stroke="#1a1a1a" stroke-width="0.9"/>
<text x="314.00" y="83.77" font-size="5.5" text-anchor="end" fill="#2a2a2a" class="n">60</text>
<line x1="316.80" y1="69.10" x2="320.00" y2="69.10" stroke="#1a1a1a" stroke-width="0.9"/>
<text x="314.00" y="70.67" font-size="5.5" text-anchor="end" fill="#2a2a2a" class="n">70</text>
<line x1="316.80" y1="56.00" x2="320.00" y2="56.00" stroke="#1a1a1a" stroke-width="0.9"/>
<text x="314.00" y="57.57" font-size="5.5" text-anchor="end" fill="#2a2a2a" class="n">80</text>
<line x1="316.80" y1="42.90" x2="320.00" y2="42.90" stroke="#1a1a1a" stroke-width="0.9"/>
<text x="314.00" y="44.47" font-size="5.5" text-anchor="end" fill="#2a2a2a" class="n">90</text>
<line x1="316.80" y1="29.80" x2="320.00" y2="29.80" stroke="#1a1a1a" stroke-width="0.9"/>
<text x="314.00" y="31.37" font-size="5.5" text-anchor="end" fill="#2a2a2a" class="n">100</text>
<line x1="320.00" y1="163.80" x2="320.00" y2="166.40" stroke="#1a1a1a" stroke-width="0.9"/>
<text x="320.00" y="174.60" font-size="5.3" text-anchor="middle" fill="#2a2a2a" class="n">0</text>
<line x1="339.04" y1="163.80" x2="339.04" y2="166.40" stroke="#1a1a1a" stroke-width="0.9"/>
<text x="339.04" y="174.60" font-size="5.3" text-anchor="middle" fill="#2a2a2a" class="n">1</text>
<line x1="358.08" y1="163.80" x2="358.08" y2="166.40" stroke="#1a1a1a" stroke-width="0.9"/>
<text x="358.08" y="174.60" font-size="5.3" text-anchor="middle" fill="#2a2a2a" class="n">2</text>
<line x1="377.12" y1="163.80" x2="377.12" y2="166.40" stroke="#1a1a1a" stroke-width="0.9"/>
<text x="377.12" y="174.60" font-size="5.3" text-anchor="middle" fill="#2a2a2a" class="n">3</text>
<line x1="396.16" y1="163.80" x2="396.16" y2="166.40" stroke="#1a1a1a" stroke-width="0.9"/>
<text x="396.16" y="174.60" font-size="5.3" text-anchor="middle" fill="#2a2a2a" class="n">4</text>
<line x1="415.20" y1="163.80" x2="415.20" y2="166.40" stroke="#1a1a1a" stroke-width="0.9"/>
<text x="415.20" y="174.60" font-size="5.3" text-anchor="middle" fill="#2a2a2a" class="n">5</text>
<line x1="434.24" y1="163.80" x2="434.24" y2="166.40" stroke="#1a1a1a" stroke-width="0.9"/>
<text x="434.24" y="174.60" font-size="5.3" text-anchor="middle" fill="#2a2a2a" class="n">6</text>
<line x1="453.28" y1="163.80" x2="453.28" y2="166.40" stroke="#1a1a1a" stroke-width="0.9"/>
<text x="453.28" y="174.60" font-size="5.3" text-anchor="middle" fill="#2a2a2a" class="n">7</text>
<line x1="472.32" y1="163.80" x2="472.32" y2="166.40" stroke="#1a1a1a" stroke-width="0.9"/>
<text x="472.32" y="174.60" font-size="5.3" text-anchor="middle" fill="#2a2a2a" class="n">8</text>
<line x1="491.36" y1="163.80" x2="491.36" y2="166.40" stroke="#1a1a1a" stroke-width="0.9"/>
<text x="491.36" y="174.60" font-size="5.3" text-anchor="middle" fill="#2a2a2a" class="n">9</text>
<line x1="510.40" y1="163.80" x2="510.40" y2="166.40" stroke="#1a1a1a" stroke-width="0.9"/>
<text x="510.40" y="174.60" font-size="5.3" text-anchor="middle" fill="#2a2a2a" class="n">10</text>
<text x="0" y="0" font-size="6.9" text-anchor="middle" fill="#2e2e2e" textLength="47.90" lengthAdjust="spacingAndGlyphs" transform="translate(300.50,94.95) rotate(-90)">Overall survival, %</text>
<text x="398.90" y="185.20" font-size="7.8" fill="#2a2a2a" stroke="#2a2a2a" stroke-width="0.07" textLength="32.30" lengthAdjust="spacingAndGlyphs">Time (years)</text>
<text x="400.20" y="193.59" font-size="5.0" text-anchor="start" fill="#333" stroke="#333" stroke-width="0.05" textLength="29.70" lengthAdjust="spacingAndGlyphs">Patients-at-Risk</text>
<path d="M320.00,29.70 L322.00,30.40 L323.20,31.20 L324.30,31.80 L326.70,32.30 L329.00,32.30 L330.10,34.10 L331.80,35.80 L333.60,37.00 L335.30,37.50 L338.80,37.50 L339.90,38.90 L341.10,39.50 L353.80,39.50 L354.90,40.80 L389.60,40.80 L390.50,42.50 L392.50,43.10 L393.30,45.20 L404.60,45.20 L405.80,47.10 L416.70,47.10 L417.30,50.30 L440.40,50.30 L440.60,54.90 L490.90,54.90" fill="none" stroke="#2a4688" stroke-width="1.3" stroke-linejoin="miter"/>
<line x1="344.00" y1="38.30" x2="344.00" y2="40.70" stroke="#2a4688" stroke-width="1.1"/>
<line x1="348.00" y1="38.30" x2="348.00" y2="40.70" stroke="#2a4688" stroke-width="1.1"/>
<line x1="362.00" y1="39.60" x2="362.00" y2="42.00" stroke="#2a4688" stroke-width="1.1"/>
<line x1="371.00" y1="39.60" x2="371.00" y2="42.00" stroke="#2a4688" stroke-width="1.1"/>
<line x1="379.00" y1="39.60" x2="379.00" y2="42.00" stroke="#2a4688" stroke-width="1.1"/>
<line x1="397.00" y1="44.00" x2="397.00" y2="46.40" stroke="#2a4688" stroke-width="1.1"/>
<line x1="400.00" y1="44.00" x2="400.00" y2="46.40" stroke="#2a4688" stroke-width="1.1"/>
<line x1="403.00" y1="44.00" x2="403.00" y2="46.40" stroke="#2a4688" stroke-width="1.1"/>
<line x1="409.00" y1="45.90" x2="409.00" y2="48.30" stroke="#2a4688" stroke-width="1.1"/>
<line x1="412.00" y1="45.90" x2="412.00" y2="48.30" stroke="#2a4688" stroke-width="1.1"/>
<line x1="421.00" y1="49.10" x2="421.00" y2="51.50" stroke="#2a4688" stroke-width="1.1"/>
<line x1="425.00" y1="49.10" x2="425.00" y2="51.50" stroke="#2a4688" stroke-width="1.1"/>
<line x1="429.00" y1="49.10" x2="429.00" y2="51.50" stroke="#2a4688" stroke-width="1.1"/>
<line x1="433.00" y1="49.10" x2="433.00" y2="51.50" stroke="#2a4688" stroke-width="1.1"/>
<line x1="437.00" y1="49.10" x2="437.00" y2="51.50" stroke="#2a4688" stroke-width="1.1"/>
<line x1="445.00" y1="53.70" x2="445.00" y2="56.10" stroke="#2a4688" stroke-width="1.1"/>
<line x1="449.00" y1="53.70" x2="449.00" y2="56.10" stroke="#2a4688" stroke-width="1.1"/>
<line x1="454.00" y1="53.70" x2="454.00" y2="56.10" stroke="#2a4688" stroke-width="1.1"/>
<line x1="459.00" y1="53.70" x2="459.00" y2="56.10" stroke="#2a4688" stroke-width="1.1"/>
<line x1="466.00" y1="53.70" x2="466.00" y2="56.10" stroke="#2a4688" stroke-width="1.1"/>
<line x1="471.00" y1="53.70" x2="471.00" y2="56.10" stroke="#2a4688" stroke-width="1.1"/>
<line x1="476.00" y1="53.70" x2="476.00" y2="56.10" stroke="#2a4688" stroke-width="1.1"/>
<line x1="481.00" y1="53.70" x2="481.00" y2="56.10" stroke="#2a4688" stroke-width="1.1"/>
<line x1="486.00" y1="53.70" x2="486.00" y2="56.10" stroke="#2a4688" stroke-width="1.1"/>
<path d="M320.00,29.80 L322.60,31.20 L324.90,32.30 L327.20,33.50 L329.50,35.00 L331.80,37.00 L334.10,39.30 L336.50,42.10 L338.20,45.00 L339.30,47.30 L341.10,50.40 L343.80,52.10 L346.80,53.50 L348.50,55.20 L353.10,56.90 L357.70,59.20 L362.30,59.50 L364.60,61.50 L369.20,64.40 L373.80,66.70 L378.40,67.50 L385.00,67.90 L387.30,69.00 L390.80,71.30 L394.20,72.10 L400.00,72.50 L403.50,74.20 L408.10,75.40 L412.70,76.30 L417.30,77.30 L423.10,77.90 L426.50,79.10 L430.00,80.60 L452.30,80.60 L453.00,81.70 L458.40,81.70 L459.20,83.30 L466.80,83.30 L467.30,85.60 L510.40,85.60" fill="none" stroke="#e39a2d" stroke-width="1.3" stroke-linejoin="miter"/>
<line x1="345.00" y1="51.46" x2="345.00" y2="53.86" stroke="#e39a2d" stroke-width="1.1"/>
<line x1="350.00" y1="54.55" x2="350.00" y2="56.95" stroke="#e39a2d" stroke-width="1.1"/>
<line x1="356.00" y1="57.15" x2="356.00" y2="59.55" stroke="#e39a2d" stroke-width="1.1"/>
<line x1="360.00" y1="58.15" x2="360.00" y2="60.55" stroke="#e39a2d" stroke-width="1.1"/>
<line x1="366.00" y1="61.18" x2="366.00" y2="63.58" stroke="#e39a2d" stroke-width="1.1"/>
<line x1="371.00" y1="64.10" x2="371.00" y2="66.50" stroke="#e39a2d" stroke-width="1.1"/>
<line x1="376.00" y1="65.88" x2="376.00" y2="68.28" stroke="#e39a2d" stroke-width="1.1"/>
<line x1="381.00" y1="66.46" x2="381.00" y2="68.86" stroke="#e39a2d" stroke-width="1.1"/>
<line x1="389.00" y1="68.92" x2="389.00" y2="71.32" stroke="#e39a2d" stroke-width="1.1"/>
<line x1="396.00" y1="71.02" x2="396.00" y2="73.42" stroke="#e39a2d" stroke-width="1.1"/>
<line x1="399.00" y1="71.23" x2="399.00" y2="73.63" stroke="#e39a2d" stroke-width="1.1"/>
<line x1="406.00" y1="73.65" x2="406.00" y2="76.05" stroke="#e39a2d" stroke-width="1.1"/>
<line x1="411.00" y1="74.77" x2="411.00" y2="77.17" stroke="#e39a2d" stroke-width="1.1"/>
<line x1="415.00" y1="75.60" x2="415.00" y2="78.00" stroke="#e39a2d" stroke-width="1.1"/>
<line x1="420.00" y1="76.38" x2="420.00" y2="78.78" stroke="#e39a2d" stroke-width="1.1"/>
<line x1="425.00" y1="77.37" x2="425.00" y2="79.77" stroke="#e39a2d" stroke-width="1.1"/>
<line x1="433.00" y1="79.40" x2="433.00" y2="81.80" stroke="#e39a2d" stroke-width="1.1"/>
<line x1="436.00" y1="79.40" x2="436.00" y2="81.80" stroke="#e39a2d" stroke-width="1.1"/>
<line x1="440.00" y1="79.40" x2="440.00" y2="81.80" stroke="#e39a2d" stroke-width="1.1"/>
<line x1="443.00" y1="79.40" x2="443.00" y2="81.80" stroke="#e39a2d" stroke-width="1.1"/>
<line x1="447.00" y1="79.40" x2="447.00" y2="81.80" stroke="#e39a2d" stroke-width="1.1"/>
<line x1="450.00" y1="79.40" x2="450.00" y2="81.80" stroke="#e39a2d" stroke-width="1.1"/>
<line x1="455.00" y1="80.50" x2="455.00" y2="82.90" stroke="#e39a2d" stroke-width="1.1"/>
<line x1="457.00" y1="80.50" x2="457.00" y2="82.90" stroke="#e39a2d" stroke-width="1.1"/>
<line x1="462.00" y1="82.10" x2="462.00" y2="84.50" stroke="#e39a2d" stroke-width="1.1"/>
<line x1="464.00" y1="82.10" x2="464.00" y2="84.50" stroke="#e39a2d" stroke-width="1.1"/>
<line x1="470.00" y1="84.40" x2="470.00" y2="86.80" stroke="#e39a2d" stroke-width="1.1"/>
<line x1="474.00" y1="84.40" x2="474.00" y2="86.80" stroke="#e39a2d" stroke-width="1.1"/>
<line x1="478.00" y1="84.40" x2="478.00" y2="86.80" stroke="#e39a2d" stroke-width="1.1"/>
<line x1="482.00" y1="84.40" x2="482.00" y2="86.80" stroke="#e39a2d" stroke-width="1.1"/>
<line x1="487.00" y1="84.40" x2="487.00" y2="86.80" stroke="#e39a2d" stroke-width="1.1"/>
<line x1="492.00" y1="84.40" x2="492.00" y2="86.80" stroke="#e39a2d" stroke-width="1.1"/>
<line x1="497.00" y1="84.40" x2="497.00" y2="86.80" stroke="#e39a2d" stroke-width="1.1"/>
<line x1="501.00" y1="84.40" x2="501.00" y2="86.80" stroke="#e39a2d" stroke-width="1.1"/>
<line x1="505.00" y1="84.40" x2="505.00" y2="86.80" stroke="#e39a2d" stroke-width="1.1"/>
<path d="M320.00,29.80 L320.80,29.80 L320.80,39.80 L322.40,39.80 L322.40,46.20 L324.00,46.20 L324.00,51.60 L327.30,51.60 L327.30,57.20 L337.00,57.20 L337.00,61.80 L337.60,61.80 L337.60,68.20 L338.10,68.20 L338.10,73.40 L345.70,73.40 L345.70,78.50 L346.40,78.50 L346.40,84.30 L375.60,84.30 L375.60,89.90 L438.30,89.90 L438.30,104.00 L506.00,104.00" fill="none" stroke="#bc1f4c" stroke-width="1.3" stroke-linejoin="miter"/>
<line x1="387.00" y1="88.70" x2="387.00" y2="91.10" stroke="#bc1f4c" stroke-width="1.1"/>
<line x1="406.00" y1="88.70" x2="406.00" y2="91.10" stroke="#bc1f4c" stroke-width="1.1"/>
<line x1="417.00" y1="88.70" x2="417.00" y2="91.10" stroke="#bc1f4c" stroke-width="1.1"/>
<line x1="449.00" y1="102.80" x2="449.00" y2="105.20" stroke="#bc1f4c" stroke-width="1.1"/>
<line x1="452.00" y1="102.80" x2="452.00" y2="105.20" stroke="#bc1f4c" stroke-width="1.1"/>
<line x1="464.00" y1="102.80" x2="464.00" y2="105.20" stroke="#bc1f4c" stroke-width="1.1"/>
<text x="363.00" y="136.84" font-size="4.3" text-anchor="middle" font-weight="bold" fill="#1a1a1a" textLength="42.40" lengthAdjust="spacingAndGlyphs">NCCN-IPI Risk Group</text>
<text x="401.60" y="136.84" font-size="4.3" text-anchor="middle" font-weight="bold" fill="#1a1a1a" textLength="25.30" lengthAdjust="spacingAndGlyphs">Events/Total</text>
<text x="427.90" y="136.84" font-size="4.3" text-anchor="middle" font-weight="bold" fill="#1a1a1a" textLength="21.20" lengthAdjust="spacingAndGlyphs">Time-Point</text>
<text x="458.20" y="136.84" font-size="4.3" text-anchor="middle" font-weight="bold" fill="#1a1a1a" textLength="33.50" lengthAdjust="spacingAndGlyphs">KM Est (95% CI)</text>
<line x1="329.30" y1="141.50" x2="336.10" y2="141.50" stroke="#2a4688" stroke-width="1.3"/>
<text x="363.00" y="143.04" font-size="4.3" text-anchor="middle" fill="#383838" stroke="#383838" stroke-width="0.04" textLength="43.70" lengthAdjust="spacingAndGlyphs">Low-Intermediate (2-3)</text>
<text x="401.60" y="143.04" font-size="4.3" text-anchor="middle" fill="#383838" stroke="#383838" stroke-width="0.04" textLength="11.00" lengthAdjust="spacingAndGlyphs">12/83</text>
<text x="427.90" y="143.04" font-size="4.3" text-anchor="middle" fill="#383838" stroke="#383838" stroke-width="0.04" textLength="13.50" lengthAdjust="spacingAndGlyphs">5 Years</text>
<text x="458.20" y="143.04" font-size="4.3" text-anchor="middle" fill="#383838" stroke="#383838" stroke-width="0.04" textLength="33.70" lengthAdjust="spacingAndGlyphs">86.5 (78.9-94.8%)</text>
<line x1="329.30" y1="147.50" x2="336.10" y2="147.50" stroke="#e39a2d" stroke-width="1.3"/>
<text x="363.00" y="149.04" font-size="4.3" text-anchor="middle" fill="#383838" stroke="#383838" stroke-width="0.04" textLength="45.10" lengthAdjust="spacingAndGlyphs">High-Intermediate (4-5)</text>
<text x="401.60" y="149.04" font-size="4.3" text-anchor="middle" fill="#383838" stroke="#383838" stroke-width="0.04" textLength="15.50" lengthAdjust="spacingAndGlyphs">136/379</text>
<text x="427.90" y="149.04" font-size="4.3" text-anchor="middle" fill="#383838" stroke="#383838" stroke-width="0.04" textLength="13.50" lengthAdjust="spacingAndGlyphs">5 Years</text>
<text x="458.20" y="149.04" font-size="4.3" text-anchor="middle" fill="#383838" stroke="#383838" stroke-width="0.04" textLength="33.70" lengthAdjust="spacingAndGlyphs">63.6 (58.7-69.0%)</text>
<line x1="329.30" y1="153.50" x2="336.10" y2="153.50" stroke="#bc1f4c" stroke-width="1.3"/>
<text x="363.00" y="155.04" font-size="4.3" text-anchor="middle" fill="#383838" stroke="#383838" stroke-width="0.04" textLength="18.90" lengthAdjust="spacingAndGlyphs">High (6-8)</text>
<text x="401.60" y="155.04" font-size="4.3" text-anchor="middle" fill="#383838" stroke="#383838" stroke-width="0.04" textLength="11.00" lengthAdjust="spacingAndGlyphs">12/24</text>
<text x="427.90" y="155.04" font-size="4.3" text-anchor="middle" fill="#383838" stroke="#383838" stroke-width="0.04" textLength="13.50" lengthAdjust="spacingAndGlyphs">5 Years</text>
<text x="458.20" y="155.04" font-size="4.3" text-anchor="middle" fill="#383838" stroke="#383838" stroke-width="0.04" textLength="33.70" lengthAdjust="spacingAndGlyphs">54.2 (37.5-78.3%)</text>
<text x="340.90" y="160.94" font-size="4.3" text-anchor="start" fill="#383838" stroke="#383838" stroke-width="0.04" textLength="46.00" lengthAdjust="spacingAndGlyphs">Logrank P-value: 0.0003</text>
<text x="474.80" y="160.94" font-size="4.3" text-anchor="end" fill="#383838" stroke="#383838" stroke-width="0.04" textLength="17.20" lengthAdjust="spacingAndGlyphs">+ Censor</text>
<text x="265.60" y="200.98" font-size="4.7" text-anchor="start" fill="#2e2e2e" stroke="#2e2e2e" stroke-width="0.06" textLength="44.30" lengthAdjust="spacingAndGlyphs">Low-Intermediate (2-3)</text>
<text x="320.00" y="200.95" font-size="4.6" text-anchor="middle" fill="#3c3c3c" class="n">83</text>
<text x="339.04" y="200.95" font-size="4.6" text-anchor="middle" fill="#3c3c3c" class="n">77</text>
<text x="358.08" y="200.95" font-size="4.6" text-anchor="middle" fill="#3c3c3c" class="n">70</text>
<text x="377.12" y="200.95" font-size="4.6" text-anchor="middle" fill="#3c3c3c" class="n">62</text>
<text x="396.16" y="200.95" font-size="4.6" text-anchor="middle" fill="#3c3c3c" class="n">53</text>
<text x="415.20" y="200.95" font-size="4.6" text-anchor="middle" fill="#3c3c3c" class="n">39</text>
<text x="434.24" y="200.95" font-size="4.6" text-anchor="middle" fill="#3c3c3c" class="n">26</text>
<text x="453.28" y="200.95" font-size="4.6" text-anchor="middle" fill="#3c3c3c" class="n">15</text>
<text x="472.32" y="200.95" font-size="4.6" text-anchor="middle" fill="#3c3c3c" class="n">6</text>
<text x="491.36" y="200.95" font-size="4.6" text-anchor="middle" fill="#3c3c3c" class="n">0</text>
<text x="264.60" y="208.68" font-size="4.7" text-anchor="start" fill="#2e2e2e" stroke="#2e2e2e" stroke-width="0.06" textLength="45.30" lengthAdjust="spacingAndGlyphs">High-Intermediate (4-5)</text>
<text x="320.00" y="208.65" font-size="4.6" text-anchor="middle" fill="#3c3c3c" class="n">379</text>
<text x="339.04" y="208.65" font-size="4.6" text-anchor="middle" fill="#3c3c3c" class="n">325</text>
<text x="358.08" y="208.65" font-size="4.6" text-anchor="middle" fill="#3c3c3c" class="n">284</text>
<text x="377.12" y="208.65" font-size="4.6" text-anchor="middle" fill="#3c3c3c" class="n">240</text>
<text x="396.16" y="208.65" font-size="4.6" text-anchor="middle" fill="#3c3c3c" class="n">196</text>
<text x="415.20" y="208.65" font-size="4.6" text-anchor="middle" fill="#3c3c3c" class="n">152</text>
<text x="434.24" y="208.65" font-size="4.6" text-anchor="middle" fill="#3c3c3c" class="n">103</text>
<text x="453.28" y="208.65" font-size="4.6" text-anchor="middle" fill="#3c3c3c" class="n">65</text>
<text x="472.32" y="208.65" font-size="4.6" text-anchor="middle" fill="#3c3c3c" class="n">31</text>
<text x="491.36" y="208.65" font-size="4.6" text-anchor="middle" fill="#3c3c3c" class="n">18</text>
<text x="510.40" y="208.65" font-size="4.6" text-anchor="middle" fill="#3c3c3c" class="n">9</text>
<text x="291.10" y="216.28" font-size="4.7" text-anchor="start" fill="#2e2e2e" stroke="#2e2e2e" stroke-width="0.06" textLength="18.80" lengthAdjust="spacingAndGlyphs">High (6-8)</text>
<text x="320.00" y="216.25" font-size="4.6" text-anchor="middle" fill="#3c3c3c" class="n">24</text>
<text x="339.04" y="216.25" font-size="4.6" text-anchor="middle" fill="#3c3c3c" class="n">16</text>
<text x="358.08" y="216.25" font-size="4.6" text-anchor="middle" fill="#3c3c3c" class="n">14</text>
<text x="377.12" y="216.25" font-size="4.6" text-anchor="middle" fill="#3c3c3c" class="n">13</text>
<text x="396.16" y="216.25" font-size="4.6" text-anchor="middle" fill="#3c3c3c" class="n">11</text>
<text x="415.20" y="216.25" font-size="4.6" text-anchor="middle" fill="#3c3c3c" class="n">10</text>
<text x="434.24" y="216.25" font-size="4.6" text-anchor="middle" fill="#3c3c3c" class="n">6</text>
<text x="453.28" y="216.25" font-size="4.6" text-anchor="middle" fill="#3c3c3c" class="n">3</text>
<text x="472.32" y="216.25" font-size="4.6" text-anchor="middle" fill="#3c3c3c" class="n">1</text>
<text x="491.36" y="216.25" font-size="4.6" text-anchor="middle" fill="#3c3c3c" class="n">1</text>
<text x="510.40" y="216.25" font-size="4.6" text-anchor="middle" fill="#3c3c3c" class="n">0</text>
<text x="265.00" y="247.96" font-size="11.9" text-anchor="start" font-weight="bold" fill="#000" stroke="#000" stroke-width="0.45" textLength="8.10" lengthAdjust="spacingAndGlyphs">D</text>
<text x="355.80" y="253.51" font-size="7.0" text-anchor="start" fill="#1e1e1e" textLength="118.80" lengthAdjust="spacingAndGlyphs">NCCN-IPI Conditional on a High IPI</text>
<path d="M320.00,394.60 V257.80 H510.40 V394.60 Z" fill="none" stroke="#1a1a1a" stroke-width="1.2"/>
<line x1="320.00" y1="257.30" x2="320.00" y2="395.30" stroke="#1a1a1a" stroke-width="1.4"/>
<line x1="319.30" y1="394.60" x2="510.40" y2="394.60" stroke="#1a1a1a" stroke-width="1.4"/>
<line x1="316.80" y1="391.90" x2="320.00" y2="391.90" stroke="#1a1a1a" stroke-width="0.9"/>
<text x="314.00" y="393.47" font-size="5.5" text-anchor="end" fill="#2a2a2a" class="n">0</text>
<line x1="316.80" y1="378.80" x2="320.00" y2="378.80" stroke="#1a1a1a" stroke-width="0.9"/>
<text x="314.00" y="380.37" font-size="5.5" text-anchor="end" fill="#2a2a2a" class="n">10</text>
<line x1="316.80" y1="365.70" x2="320.00" y2="365.70" stroke="#1a1a1a" stroke-width="0.9"/>
<text x="314.00" y="367.27" font-size="5.5" text-anchor="end" fill="#2a2a2a" class="n">20</text>
<line x1="316.80" y1="352.60" x2="320.00" y2="352.60" stroke="#1a1a1a" stroke-width="0.9"/>
<text x="314.00" y="354.17" font-size="5.5" text-anchor="end" fill="#2a2a2a" class="n">30</text>
<line x1="316.80" y1="339.50" x2="320.00" y2="339.50" stroke="#1a1a1a" stroke-width="0.9"/>
<text x="314.00" y="341.07" font-size="5.5" text-anchor="end" fill="#2a2a2a" class="n">40</text>
<line x1="316.80" y1="326.40" x2="320.00" y2="326.40" stroke="#1a1a1a" stroke-width="0.9"/>
<text x="314.00" y="327.97" font-size="5.5" text-anchor="end" fill="#2a2a2a" class="n">50</text>
<line x1="316.80" y1="313.30" x2="320.00" y2="313.30" stroke="#1a1a1a" stroke-width="0.9"/>
<text x="314.00" y="314.87" font-size="5.5" text-anchor="end" fill="#2a2a2a" class="n">60</text>
<line x1="316.80" y1="300.20" x2="320.00" y2="300.20" stroke="#1a1a1a" stroke-width="0.9"/>
<text x="314.00" y="301.77" font-size="5.5" text-anchor="end" fill="#2a2a2a" class="n">70</text>
<line x1="316.80" y1="287.10" x2="320.00" y2="287.10" stroke="#1a1a1a" stroke-width="0.9"/>
<text x="314.00" y="288.67" font-size="5.5" text-anchor="end" fill="#2a2a2a" class="n">80</text>
<line x1="316.80" y1="274.00" x2="320.00" y2="274.00" stroke="#1a1a1a" stroke-width="0.9"/>
<text x="314.00" y="275.57" font-size="5.5" text-anchor="end" fill="#2a2a2a" class="n">90</text>
<line x1="316.80" y1="260.90" x2="320.00" y2="260.90" stroke="#1a1a1a" stroke-width="0.9"/>
<text x="314.00" y="262.47" font-size="5.5" text-anchor="end" fill="#2a2a2a" class="n">100</text>
<line x1="320.00" y1="394.60" x2="320.00" y2="397.20" stroke="#1a1a1a" stroke-width="0.9"/>
<text x="320.00" y="405.40" font-size="5.3" text-anchor="middle" fill="#2a2a2a" class="n">0</text>
<line x1="339.04" y1="394.60" x2="339.04" y2="397.20" stroke="#1a1a1a" stroke-width="0.9"/>
<text x="339.04" y="405.40" font-size="5.3" text-anchor="middle" fill="#2a2a2a" class="n">1</text>
<line x1="358.08" y1="394.60" x2="358.08" y2="397.20" stroke="#1a1a1a" stroke-width="0.9"/>
<text x="358.08" y="405.40" font-size="5.3" text-anchor="middle" fill="#2a2a2a" class="n">2</text>
<line x1="377.12" y1="394.60" x2="377.12" y2="397.20" stroke="#1a1a1a" stroke-width="0.9"/>
<text x="377.12" y="405.40" font-size="5.3" text-anchor="middle" fill="#2a2a2a" class="n">3</text>
<line x1="396.16" y1="394.60" x2="396.16" y2="397.20" stroke="#1a1a1a" stroke-width="0.9"/>
<text x="396.16" y="405.40" font-size="5.3" text-anchor="middle" fill="#2a2a2a" class="n">4</text>
<line x1="415.20" y1="394.60" x2="415.20" y2="397.20" stroke="#1a1a1a" stroke-width="0.9"/>
<text x="415.20" y="405.40" font-size="5.3" text-anchor="middle" fill="#2a2a2a" class="n">5</text>
<line x1="434.24" y1="394.60" x2="434.24" y2="397.20" stroke="#1a1a1a" stroke-width="0.9"/>
<text x="434.24" y="405.40" font-size="5.3" text-anchor="middle" fill="#2a2a2a" class="n">6</text>
<line x1="453.28" y1="394.60" x2="453.28" y2="397.20" stroke="#1a1a1a" stroke-width="0.9"/>
<text x="453.28" y="405.40" font-size="5.3" text-anchor="middle" fill="#2a2a2a" class="n">7</text>
<line x1="472.32" y1="394.60" x2="472.32" y2="397.20" stroke="#1a1a1a" stroke-width="0.9"/>
<text x="472.32" y="405.40" font-size="5.3" text-anchor="middle" fill="#2a2a2a" class="n">8</text>
<line x1="491.36" y1="394.60" x2="491.36" y2="397.20" stroke="#1a1a1a" stroke-width="0.9"/>
<text x="491.36" y="405.40" font-size="5.3" text-anchor="middle" fill="#2a2a2a" class="n">9</text>
<line x1="510.40" y1="394.60" x2="510.40" y2="397.20" stroke="#1a1a1a" stroke-width="0.9"/>
<text x="510.40" y="405.40" font-size="5.3" text-anchor="middle" fill="#2a2a2a" class="n">10</text>
<text x="0" y="0" font-size="6.9" text-anchor="middle" fill="#2e2e2e" textLength="47.80" lengthAdjust="spacingAndGlyphs" transform="translate(300.50,326.20) rotate(-90)">Overall survival, %</text>
<text x="399.40" y="416.20" font-size="7.8" fill="#2a2a2a" stroke="#2a2a2a" stroke-width="0.07" textLength="31.80" lengthAdjust="spacingAndGlyphs">Time (years)</text>
<text x="400.20" y="424.99" font-size="5.0" text-anchor="start" fill="#333" stroke="#333" stroke-width="0.05" textLength="30.20" lengthAdjust="spacingAndGlyphs">Patients-at-Risk</text>
<path d="M320.00,261.00 L399.80,261.00" fill="none" stroke="#7f94c4" stroke-width="1.3" stroke-linejoin="miter"/>
<line x1="347.50" y1="259.80" x2="347.50" y2="262.20" stroke="#7f94c4" stroke-width="1.1"/>
<line x1="367.80" y1="259.80" x2="367.80" y2="262.20" stroke="#7f94c4" stroke-width="1.1"/>
<path d="M320.00,260.90 L322.00,262.50 L324.60,267.00 L328.00,271.50 L330.00,276.00 L333.40,281.00 L337.60,287.70 L342.10,293.20 L346.50,296.60 L351.00,299.50 L355.30,302.80 L361.90,305.90 L368.40,307.50 L375.00,308.60 L383.80,309.70 L392.60,310.40 L397.00,311.10 L399.60,312.10 L404.20,313.30 L408.80,314.40 L413.50,315.60 L418.10,316.70 L422.70,317.90 L427.30,318.70 L429.60,319.40 L441.10,319.40 L442.90,320.90 L454.40,321.30 L455.00,323.80 L509.40,323.80" fill="none" stroke="#e39a2d" stroke-width="1.3" stroke-linejoin="miter"/>
<line x1="356.00" y1="301.93" x2="356.00" y2="304.33" stroke="#e39a2d" stroke-width="1.1"/>
<line x1="360.00" y1="303.81" x2="360.00" y2="306.21" stroke="#e39a2d" stroke-width="1.1"/>
<line x1="365.00" y1="305.46" x2="365.00" y2="307.86" stroke="#e39a2d" stroke-width="1.1"/>
<line x1="372.00" y1="306.90" x2="372.00" y2="309.30" stroke="#e39a2d" stroke-width="1.1"/>
<line x1="380.00" y1="308.03" x2="380.00" y2="310.43" stroke="#e39a2d" stroke-width="1.1"/>
<line x1="388.00" y1="308.83" x2="388.00" y2="311.23" stroke="#e39a2d" stroke-width="1.1"/>
<line x1="395.00" y1="309.58" x2="395.00" y2="311.98" stroke="#e39a2d" stroke-width="1.1"/>
<line x1="402.00" y1="311.53" x2="402.00" y2="313.93" stroke="#e39a2d" stroke-width="1.1"/>
<line x1="406.00" y1="312.53" x2="406.00" y2="314.93" stroke="#e39a2d" stroke-width="1.1"/>
<line x1="411.00" y1="313.76" x2="411.00" y2="316.16" stroke="#e39a2d" stroke-width="1.1"/>
<line x1="416.00" y1="315.00" x2="416.00" y2="317.40" stroke="#e39a2d" stroke-width="1.1"/>
<line x1="420.00" y1="316.00" x2="420.00" y2="318.40" stroke="#e39a2d" stroke-width="1.1"/>
<line x1="425.00" y1="317.10" x2="425.00" y2="319.50" stroke="#e39a2d" stroke-width="1.1"/>
<line x1="432.00" y1="318.20" x2="432.00" y2="320.60" stroke="#e39a2d" stroke-width="1.1"/>
<line x1="436.00" y1="318.20" x2="436.00" y2="320.60" stroke="#e39a2d" stroke-width="1.1"/>
<line x1="439.00" y1="318.20" x2="439.00" y2="320.60" stroke="#e39a2d" stroke-width="1.1"/>
<line x1="446.00" y1="319.81" x2="446.00" y2="322.21" stroke="#e39a2d" stroke-width="1.1"/>
<line x1="449.00" y1="319.91" x2="449.00" y2="322.31" stroke="#e39a2d" stroke-width="1.1"/>
<line x1="452.00" y1="320.02" x2="452.00" y2="322.42" stroke="#e39a2d" stroke-width="1.1"/>
<line x1="458.00" y1="322.60" x2="458.00" y2="325.00" stroke="#e39a2d" stroke-width="1.1"/>
<line x1="461.00" y1="322.60" x2="461.00" y2="325.00" stroke="#e39a2d" stroke-width="1.1"/>
<line x1="465.00" y1="322.60" x2="465.00" y2="325.00" stroke="#e39a2d" stroke-width="1.1"/>
<line x1="469.00" y1="322.60" x2="469.00" y2="325.00" stroke="#e39a2d" stroke-width="1.1"/>
<line x1="473.00" y1="322.60" x2="473.00" y2="325.00" stroke="#e39a2d" stroke-width="1.1"/>
<line x1="477.00" y1="322.60" x2="477.00" y2="325.00" stroke="#e39a2d" stroke-width="1.1"/>
<line x1="481.00" y1="322.60" x2="481.00" y2="325.00" stroke="#e39a2d" stroke-width="1.1"/>
<line x1="485.00" y1="322.60" x2="485.00" y2="325.00" stroke="#e39a2d" stroke-width="1.1"/>
<line x1="489.00" y1="322.60" x2="489.00" y2="325.00" stroke="#e39a2d" stroke-width="1.1"/>
<line x1="493.00" y1="322.60" x2="493.00" y2="325.00" stroke="#e39a2d" stroke-width="1.1"/>
<line x1="497.00" y1="322.60" x2="497.00" y2="325.00" stroke="#e39a2d" stroke-width="1.1"/>
<line x1="501.00" y1="322.60" x2="501.00" y2="325.00" stroke="#e39a2d" stroke-width="1.1"/>
<line x1="505.00" y1="322.60" x2="505.00" y2="325.00" stroke="#e39a2d" stroke-width="1.1"/>
<path d="M320.00,260.90 L320.50,264.50 L322.40,270.50 L324.50,273.50 L326.80,277.50 L328.80,282.30 L331.20,287.90 L332.30,290.00 L334.40,297.50 L335.80,299.50 L337.70,303.00 L342.10,306.50 L346.50,308.70 L353.10,310.30 L357.50,312.50 L361.90,314.60 L366.20,316.80 L371.70,320.20 L377.20,321.20 L383.80,323.00 L390.40,324.10 L395.50,324.80 L397.30,325.40 L399.60,328.30 L413.50,328.30 L415.80,329.40 L419.20,330.20 L421.00,331.70 L435.40,331.70 L438.30,333.40 L446.30,333.40 L448.10,335.20 L449.80,337.50 L462.50,337.50 L463.50,340.10 L473.60,340.50 L474.20,344.10 L482.70,344.10 L483.10,348.20 L499.90,348.20 L500.50,354.60 L509.40,354.60" fill="none" stroke="#bc1f4c" stroke-width="1.3" stroke-linejoin="miter"/>
<line x1="378.00" y1="320.22" x2="378.00" y2="322.62" stroke="#bc1f4c" stroke-width="1.1"/>
<line x1="386.00" y1="322.17" x2="386.00" y2="324.57" stroke="#bc1f4c" stroke-width="1.1"/>
<line x1="393.00" y1="323.26" x2="393.00" y2="325.66" stroke="#bc1f4c" stroke-width="1.1"/>
<line x1="402.00" y1="327.10" x2="402.00" y2="329.50" stroke="#bc1f4c" stroke-width="1.1"/>
<line x1="405.00" y1="327.10" x2="405.00" y2="329.50" stroke="#bc1f4c" stroke-width="1.1"/>
<line x1="408.00" y1="327.10" x2="408.00" y2="329.50" stroke="#bc1f4c" stroke-width="1.1"/>
<line x1="411.00" y1="327.10" x2="411.00" y2="329.50" stroke="#bc1f4c" stroke-width="1.1"/>
<line x1="424.00" y1="330.50" x2="424.00" y2="332.90" stroke="#bc1f4c" stroke-width="1.1"/>
<line x1="427.00" y1="330.50" x2="427.00" y2="332.90" stroke="#bc1f4c" stroke-width="1.1"/>
<line x1="431.00" y1="330.50" x2="431.00" y2="332.90" stroke="#bc1f4c" stroke-width="1.1"/>
<line x1="442.00" y1="332.20" x2="442.00" y2="334.60" stroke="#bc1f4c" stroke-width="1.1"/>
<line x1="452.00" y1="336.30" x2="452.00" y2="338.70" stroke="#bc1f4c" stroke-width="1.1"/>
<line x1="456.00" y1="336.30" x2="456.00" y2="338.70" stroke="#bc1f4c" stroke-width="1.1"/>
<line x1="460.00" y1="336.30" x2="460.00" y2="338.70" stroke="#bc1f4c" stroke-width="1.1"/>
<line x1="466.00" y1="339.00" x2="466.00" y2="341.40" stroke="#bc1f4c" stroke-width="1.1"/>
<line x1="470.00" y1="339.16" x2="470.00" y2="341.56" stroke="#bc1f4c" stroke-width="1.1"/>
<line x1="477.00" y1="342.90" x2="477.00" y2="345.30" stroke="#bc1f4c" stroke-width="1.1"/>
<line x1="480.00" y1="342.90" x2="480.00" y2="345.30" stroke="#bc1f4c" stroke-width="1.1"/>
<line x1="487.00" y1="347.00" x2="487.00" y2="349.40" stroke="#bc1f4c" stroke-width="1.1"/>
<line x1="491.00" y1="347.00" x2="491.00" y2="349.40" stroke="#bc1f4c" stroke-width="1.1"/>
<line x1="495.00" y1="347.00" x2="495.00" y2="349.40" stroke="#bc1f4c" stroke-width="1.1"/>
<text x="363.00" y="364.34" font-size="4.3" text-anchor="middle" font-weight="bold" fill="#1a1a1a" textLength="42.40" lengthAdjust="spacingAndGlyphs">NCCN-IPI Risk Group</text>
<text x="401.60" y="364.34" font-size="4.3" text-anchor="middle" font-weight="bold" fill="#1a1a1a" textLength="25.30" lengthAdjust="spacingAndGlyphs">Events/Total</text>
<text x="427.50" y="364.34" font-size="4.3" text-anchor="middle" font-weight="bold" fill="#1a1a1a" textLength="21.10" lengthAdjust="spacingAndGlyphs">Time-Point</text>
<text x="458.20" y="364.34" font-size="4.3" text-anchor="middle" font-weight="bold" fill="#1a1a1a" textLength="32.30" lengthAdjust="spacingAndGlyphs">KM Est (95% CI)</text>
<line x1="329.60" y1="369.10" x2="336.10" y2="369.10" stroke="#7f94c4" stroke-width="1.5"/>
<text x="363.00" y="370.64" font-size="4.3" text-anchor="middle" fill="#383838" stroke="#383838" stroke-width="0.04" textLength="43.70" lengthAdjust="spacingAndGlyphs">Low-Intermediate (2-3)</text>
<text x="401.60" y="370.64" font-size="4.3" text-anchor="middle" fill="#383838" stroke="#383838" stroke-width="0.04" textLength="5.70" lengthAdjust="spacingAndGlyphs">0/3</text>
<text x="427.50" y="370.64" font-size="4.3" text-anchor="middle" fill="#383838" stroke="#383838" stroke-width="0.04" textLength="13.50" lengthAdjust="spacingAndGlyphs">5 Years</text>
<text x="458.20" y="370.64" font-size="4.3" text-anchor="middle" fill="#383838" stroke="#383838" stroke-width="0.04" textLength="26.20" lengthAdjust="spacingAndGlyphs">NE (NE-NE%)</text>
<line x1="329.60" y1="375.20" x2="336.10" y2="375.20" stroke="#e39a2d" stroke-width="1.5"/>
<text x="363.00" y="376.74" font-size="4.3" text-anchor="middle" fill="#383838" stroke="#383838" stroke-width="0.04" textLength="45.10" lengthAdjust="spacingAndGlyphs">High-Intermediate (4-5)</text>
<text x="401.60" y="376.74" font-size="4.3" text-anchor="middle" fill="#383838" stroke="#383838" stroke-width="0.04" textLength="13.30" lengthAdjust="spacingAndGlyphs">99/234</text>
<text x="427.50" y="376.74" font-size="4.3" text-anchor="middle" fill="#383838" stroke="#383838" stroke-width="0.04" textLength="13.50" lengthAdjust="spacingAndGlyphs">5 Years</text>
<text x="458.20" y="376.74" font-size="4.3" text-anchor="middle" fill="#383838" stroke="#383838" stroke-width="0.04" textLength="34.50" lengthAdjust="spacingAndGlyphs">58.1 (51.8-65.1 %)</text>
<line x1="329.60" y1="381.30" x2="336.10" y2="381.30" stroke="#bc1f4c" stroke-width="1.5"/>
<text x="363.00" y="382.84" font-size="4.3" text-anchor="middle" fill="#383838" stroke="#383838" stroke-width="0.04" textLength="18.90" lengthAdjust="spacingAndGlyphs">High (6-8)</text>
<text x="401.60" y="382.84" font-size="4.3" text-anchor="middle" fill="#383838" stroke="#383838" stroke-width="0.04" textLength="15.00" lengthAdjust="spacingAndGlyphs">106/191</text>
<text x="427.50" y="382.84" font-size="4.3" text-anchor="middle" fill="#383838" stroke="#383838" stroke-width="0.04" textLength="13.50" lengthAdjust="spacingAndGlyphs">5 Years</text>
<text x="458.20" y="382.84" font-size="4.3" text-anchor="middle" fill="#383838" stroke="#383838" stroke-width="0.04" textLength="33.70" lengthAdjust="spacingAndGlyphs">48.3 (41.6-56.1%)</text>
<text x="341.10" y="388.74" font-size="4.3" text-anchor="start" fill="#383838" stroke="#383838" stroke-width="0.04" textLength="45.70" lengthAdjust="spacingAndGlyphs">Logrank P-value: 0.0135</text>
<text x="475.60" y="388.34" font-size="4.3" text-anchor="end" fill="#383838" stroke="#383838" stroke-width="0.04" textLength="16.90" lengthAdjust="spacingAndGlyphs">+ Censor</text>
<text x="266.00" y="432.58" font-size="4.7" text-anchor="start" fill="#2e2e2e" stroke="#2e2e2e" stroke-width="0.06" textLength="43.60" lengthAdjust="spacingAndGlyphs">Low-Intermediate (2-3)</text>
<text x="320.00" y="432.55" font-size="4.6" text-anchor="middle" fill="#3c3c3c" class="n">3</text>
<text x="339.04" y="432.55" font-size="4.6" text-anchor="middle" fill="#3c3c3c" class="n">3</text>
<text x="358.08" y="432.55" font-size="4.6" text-anchor="middle" fill="#3c3c3c" class="n">2</text>
<text x="377.12" y="432.55" font-size="4.6" text-anchor="middle" fill="#3c3c3c" class="n">1</text>
<text x="396.16" y="432.55" font-size="4.6" text-anchor="middle" fill="#3c3c3c" class="n">1</text>
<text x="415.20" y="432.55" font-size="4.6" text-anchor="middle" fill="#3c3c3c" class="n">0</text>
<text x="264.90" y="440.18" font-size="4.7" text-anchor="start" fill="#2e2e2e" stroke="#2e2e2e" stroke-width="0.06" textLength="44.70" lengthAdjust="spacingAndGlyphs">High-Intermediate (4-5)</text>
<text x="320.00" y="440.15" font-size="4.6" text-anchor="middle" fill="#3c3c3c" class="n">234</text>
<text x="339.04" y="440.15" font-size="4.6" text-anchor="middle" fill="#3c3c3c" class="n">186</text>
<text x="358.08" y="440.15" font-size="4.6" text-anchor="middle" fill="#3c3c3c" class="n">155</text>
<text x="377.12" y="440.15" font-size="4.6" text-anchor="middle" fill="#3c3c3c" class="n">132</text>
<text x="396.16" y="440.15" font-size="4.6" text-anchor="middle" fill="#3c3c3c" class="n">104</text>
<text x="415.20" y="440.15" font-size="4.6" text-anchor="middle" fill="#3c3c3c" class="n">74</text>
<text x="434.24" y="440.15" font-size="4.6" text-anchor="middle" fill="#3c3c3c" class="n">48</text>
<text x="453.28" y="440.15" font-size="4.6" text-anchor="middle" fill="#3c3c3c" class="n">27</text>
<text x="472.32" y="440.15" font-size="4.6" text-anchor="middle" fill="#3c3c3c" class="n">12</text>
<text x="491.36" y="440.15" font-size="4.6" text-anchor="middle" fill="#3c3c3c" class="n">9</text>
<text x="510.40" y="440.15" font-size="4.6" text-anchor="middle" fill="#3c3c3c" class="n">4</text>
<text x="290.60" y="447.88" font-size="4.7" text-anchor="start" fill="#2e2e2e" stroke="#2e2e2e" stroke-width="0.06" textLength="19.00" lengthAdjust="spacingAndGlyphs">High (6-8)</text>
<text x="320.00" y="447.85" font-size="4.6" text-anchor="middle" fill="#3c3c3c" class="n">191</text>
<text x="339.04" y="447.85" font-size="4.6" text-anchor="middle" fill="#3c3c3c" class="n">126</text>
<text x="358.08" y="447.85" font-size="4.6" text-anchor="middle" fill="#3c3c3c" class="n">111</text>
<text x="377.12" y="447.85" font-size="4.6" text-anchor="middle" fill="#3c3c3c" class="n">94</text>
<text x="396.16" y="447.85" font-size="4.6" text-anchor="middle" fill="#3c3c3c" class="n">79</text>
<text x="415.20" y="447.85" font-size="4.6" text-anchor="middle" fill="#3c3c3c" class="n">62</text>
<text x="434.24" y="447.85" font-size="4.6" text-anchor="middle" fill="#3c3c3c" class="n">44</text>
<text x="453.28" y="447.85" font-size="4.6" text-anchor="middle" fill="#3c3c3c" class="n">23</text>
<text x="472.32" y="447.85" font-size="4.6" text-anchor="middle" fill="#3c3c3c" class="n">15</text>
<text x="491.36" y="447.85" font-size="4.6" text-anchor="middle" fill="#3c3c3c" class="n">9</text>
<text x="510.40" y="447.85" font-size="4.6" text-anchor="middle" fill="#3c3c3c" class="n">5</text>
<rect x="0" y="0" width="520" height="1.05" fill="#000"/>
<rect x="0" y="0" width="1.15" height="456" fill="#000"/>
<rect x="518.75" y="0" width="1.25" height="456" fill="#000"/>
<rect x="0" y="454.8" width="520" height="1.2" fill="#000"/>
</svg>
</body></html>
